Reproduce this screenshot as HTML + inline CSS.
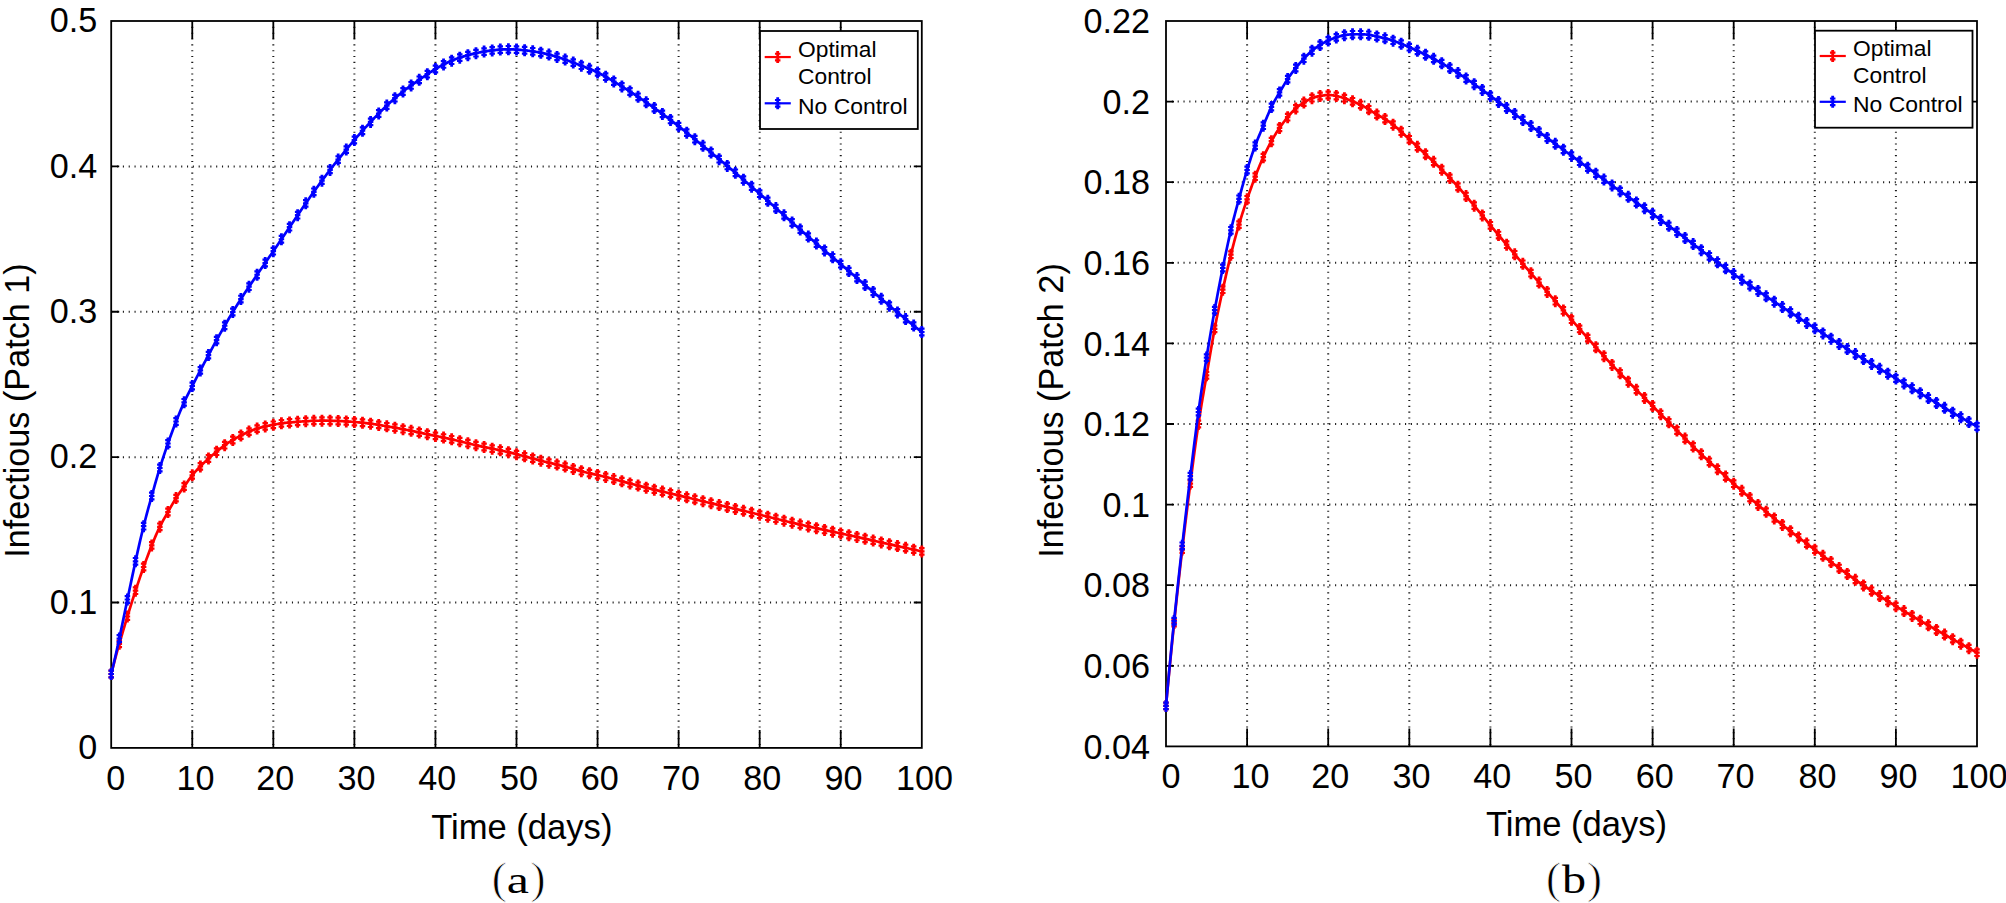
<!DOCTYPE html>
<html><head><meta charset="utf-8"><title>Infectious patches</title>
<style>
html,body{margin:0;padding:0;background:#fff;}
body{width:2006px;height:903px;overflow:hidden;}
svg{display:block;}
.tk{font-family:"Liberation Sans", Arial, Helvetica, sans-serif;font-size:34.2px;fill:#000;}
.lb{font-family:"Liberation Sans", Arial, Helvetica, sans-serif;font-size:34.2px;fill:#000;}
.xl{font-family:"Liberation Sans", Arial, Helvetica, sans-serif;font-size:34.6px;fill:#000;}
.lg{font-family:"Liberation Sans", Arial, Helvetica, sans-serif;font-size:21.5px;fill:#000;}
.cap{font-family:"Liberation Serif", "Times New Roman", serif;font-size:42px;fill:#000;}
.par{font-family:"Liberation Serif", "Times New Roman", serif;font-size:45px;fill:#000;stroke:#fff;stroke-width:0.8px;}
</style></head>
<body>
<svg width="2006" height="903" viewBox="0 0 2006 903">
<rect width="2006" height="903" fill="#fff"/>
<path d="M192.26,21.00V747.90M273.32,21.00V747.90M354.38,21.00V747.90M435.44,21.00V747.90M516.50,21.00V747.90M597.56,21.00V747.90M678.62,21.00V747.90M759.68,21.00V747.90M840.74,21.00V747.90M111.20,602.52H921.80M111.20,457.14H921.80M111.20,311.76H921.80M111.20,166.38H921.80" stroke="#1a1a1a" stroke-width="2.0" stroke-dasharray="1.1 4.73" fill="none"/>
<path d="M192.26,747.90v-18M192.26,21.00v18M273.32,747.90v-18M273.32,21.00v18M354.38,747.90v-18M354.38,21.00v18M435.44,747.90v-18M435.44,21.00v18M516.50,747.90v-18M516.50,21.00v18M597.56,747.90v-18M597.56,21.00v18M678.62,747.90v-18M678.62,21.00v18M759.68,747.90v-18M759.68,21.00v18M840.74,747.90v-18M840.74,21.00v18M111.20,602.52h8M921.80,602.52h-8M111.20,457.14h8M921.80,457.14h-8M111.20,311.76h8M921.80,311.76h-8M111.20,166.38h8M921.80,166.38h-8" stroke="#000" stroke-width="1.8" fill="none"/>
<rect x="111.20" y="21.00" width="810.60" height="726.90" stroke="#000" stroke-width="1.8" fill="none"/>
<polyline points="111.20,674.00 112.21,670.00 113.23,666.07 114.24,662.21 115.25,658.41 116.27,654.68 117.28,651.00 118.29,647.38 119.31,643.80 120.32,640.27 121.33,636.78 122.35,633.33 123.36,629.91 124.37,626.52 125.39,623.16 126.40,619.82 127.41,616.50 128.43,613.19 129.44,609.90 130.45,606.64 131.47,603.39 132.48,600.17 133.49,596.98 134.50,593.82 135.52,590.70 136.53,587.62 137.54,584.57 138.56,581.56 139.57,578.58 140.58,575.64 141.60,572.73 142.61,569.85 143.62,567.00 144.64,564.18 145.65,561.39 146.66,558.64 147.68,555.91 148.69,553.23 149.70,550.58 150.72,547.97 151.73,545.40 152.74,542.87 153.76,540.40 154.77,537.97 155.78,535.60 156.80,533.29 157.81,531.06 158.82,528.89 159.84,526.80 160.85,524.79 161.86,522.85 162.88,520.97 163.89,519.13 164.90,517.33 165.92,515.55 166.93,513.78 167.94,512.00 168.96,510.21 169.97,508.42 170.98,506.63 172.00,504.86 173.01,503.11 174.02,501.39 175.03,499.72 176.05,498.10 177.06,496.54 178.07,495.03 179.09,493.57 180.10,492.13 181.11,490.72 182.13,489.32 183.14,487.91 184.15,486.50 185.17,485.07 186.18,483.63 187.19,482.18 188.21,480.75 189.22,479.33 190.23,477.95 191.25,476.60 192.26,475.30 193.27,474.06 194.29,472.86 195.30,471.72 196.31,470.61 197.33,469.53 198.34,468.47 199.35,467.43 200.37,466.40 201.38,465.37 202.39,464.35 203.41,463.34 204.42,462.33 205.43,461.35 206.45,460.38 207.46,459.43 208.47,458.50 209.49,457.60 210.50,456.72 211.51,455.87 212.52,455.02 213.54,454.19 214.55,453.36 215.56,452.53 216.58,451.70 217.59,450.86 218.60,450.02 219.62,449.19 220.63,448.36 221.64,447.54 222.66,446.74 223.67,445.96 224.68,445.20 225.70,444.47 226.71,443.78 227.72,443.10 228.74,442.45 229.75,441.82 230.76,441.20 231.78,440.60 232.79,440.00 233.80,439.41 234.82,438.83 235.83,438.26 236.84,437.69 237.86,437.13 238.87,436.58 239.88,436.04 240.90,435.50 241.91,434.97 242.92,434.46 243.94,433.95 244.95,433.45 245.96,432.97 246.98,432.50 247.99,432.04 249.00,431.60 250.02,431.17 251.03,430.76 252.04,430.37 253.06,429.99 254.07,429.62 255.08,429.27 256.09,428.93 257.11,428.60 258.12,428.28 259.13,427.98 260.15,427.68 261.16,427.40 262.17,427.13 263.19,426.88 264.20,426.63 265.21,426.40 266.23,426.18 267.24,425.97 268.25,425.77 269.27,425.57 270.28,425.38 271.29,425.19 272.31,425.00 273.32,424.80 274.33,424.60 275.35,424.40 276.36,424.20 277.37,424.00 278.39,423.81 279.40,423.62 280.41,423.45 281.43,423.30 282.44,423.16 283.45,423.04 284.47,422.93 285.48,422.84 286.49,422.75 287.51,422.66 288.52,422.58 289.53,422.50 290.55,422.42 291.56,422.33 292.57,422.25 293.58,422.16 294.60,422.07 295.61,421.99 296.62,421.90 297.64,421.81 298.65,421.73 299.66,421.64 300.68,421.56 301.69,421.48 302.70,421.41 303.72,421.33 304.73,421.27 305.74,421.20 306.76,421.14 307.77,421.08 308.78,421.03 309.80,420.98 310.81,420.94 311.82,420.90 312.84,420.86 313.85,420.83 314.86,420.80 315.88,420.78 316.89,420.76 317.90,420.74 318.92,420.73 319.93,420.71 320.94,420.71 321.96,420.70 322.97,420.70 323.98,420.70 325.00,420.70 326.01,420.71 327.02,420.72 328.04,420.73 329.05,420.74 330.06,420.76 331.08,420.78 332.09,420.80 333.10,420.83 334.11,420.86 335.13,420.89 336.14,420.92 337.15,420.96 338.17,421.00 339.18,421.04 340.19,421.09 341.21,421.14 342.22,421.19 343.23,421.24 344.25,421.30 345.26,421.36 346.27,421.42 347.29,421.48 348.30,421.55 349.31,421.62 350.33,421.69 351.34,421.76 352.35,421.84 353.37,421.92 354.38,422.00 355.39,422.08 356.41,422.17 357.42,422.26 358.43,422.35 359.45,422.44 360.46,422.54 361.47,422.64 362.49,422.74 363.50,422.85 364.51,422.96 365.53,423.07 366.54,423.19 367.55,423.31 368.57,423.43 369.58,423.57 370.59,423.70 371.61,423.84 372.62,423.98 373.63,424.13 374.64,424.28 375.66,424.44 376.67,424.60 377.68,424.76 378.70,424.92 379.71,425.09 380.72,425.26 381.74,425.43 382.75,425.60 383.76,425.78 384.78,425.95 385.79,426.12 386.80,426.30 387.82,426.48 388.83,426.65 389.84,426.83 390.86,427.00 391.87,427.18 392.88,427.36 393.90,427.53 394.91,427.71 395.92,427.89 396.94,428.08 397.95,428.26 398.96,428.44 399.98,428.63 400.99,428.82 402.00,429.01 403.02,429.20 404.03,429.39 405.04,429.59 406.06,429.79 407.07,429.99 408.08,430.19 409.10,430.40 410.11,430.60 411.12,430.81 412.14,431.02 413.15,431.23 414.16,431.44 415.17,431.65 416.19,431.86 417.20,432.07 418.21,432.29 419.23,432.50 420.24,432.71 421.25,432.93 422.27,433.14 423.28,433.36 424.29,433.57 425.31,433.78 426.32,434.00 427.33,434.21 428.35,434.42 429.36,434.64 430.37,434.85 431.39,435.06 432.40,435.27 433.41,435.48 434.43,435.69 435.44,435.90 436.45,436.11 437.47,436.32 438.48,436.52 439.49,436.73 440.51,436.94 441.52,437.14 442.53,437.35 443.55,437.56 444.56,437.77 445.57,437.98 446.59,438.20 447.60,438.41 448.61,438.63 449.63,438.85 450.64,439.07 451.65,439.30 452.67,439.53 453.68,439.76 454.69,440.00 455.70,440.23 456.72,440.47 457.73,440.72 458.74,440.96 459.76,441.20 460.77,441.45 461.78,441.70 462.80,441.95 463.81,442.20 464.82,442.45 465.84,442.70 466.85,442.95 467.86,443.20 468.88,443.45 469.89,443.70 470.90,443.95 471.92,444.19 472.93,444.44 473.94,444.69 474.96,444.93 475.97,445.17 476.98,445.41 478.00,445.64 479.01,445.88 480.02,446.11 481.04,446.34 482.05,446.56 483.06,446.78 484.08,447.00 485.09,447.21 486.10,447.42 487.12,447.63 488.13,447.84 489.14,448.04 490.16,448.24 491.17,448.44 492.18,448.65 493.20,448.85 494.21,449.05 495.22,449.25 496.23,449.46 497.25,449.66 498.26,449.87 499.27,450.08 500.29,450.30 501.30,450.52 502.31,450.74 503.33,450.97 504.34,451.20 505.35,451.44 506.37,451.68 507.38,451.92 508.39,452.16 509.41,452.41 510.42,452.66 511.43,452.91 512.45,453.17 513.46,453.42 514.47,453.68 515.49,453.94 516.50,454.20 517.51,454.46 518.53,454.73 519.54,454.99 520.55,455.26 521.57,455.52 522.58,455.79 523.59,456.06 524.61,456.33 525.62,456.60 526.63,456.87 527.65,457.14 528.66,457.41 529.67,457.68 530.69,457.96 531.70,458.23 532.71,458.50 533.73,458.77 534.74,459.04 535.75,459.31 536.76,459.59 537.78,459.85 538.79,460.12 539.80,460.39 540.82,460.66 541.83,460.92 542.84,461.18 543.86,461.44 544.87,461.70 545.88,461.95 546.90,462.21 547.91,462.45 548.92,462.70 549.94,462.94 550.95,463.18 551.96,463.42 552.98,463.66 553.99,463.89 555.00,464.13 556.02,464.36 557.03,464.60 558.04,464.83 559.06,465.08 560.07,465.32 561.08,465.56 562.10,465.82 563.11,466.07 564.12,466.33 565.14,466.60 566.15,466.87 567.16,467.15 568.18,467.44 569.19,467.73 570.20,468.02 571.22,468.31 572.23,468.61 573.24,468.91 574.26,469.20 575.27,469.50 576.28,469.79 577.29,470.08 578.31,470.37 579.32,470.65 580.33,470.93 581.35,471.20 582.36,471.46 583.37,471.72 584.39,471.97 585.40,472.22 586.41,472.46 587.43,472.70 588.44,472.93 589.45,473.17 590.47,473.39 591.48,473.62 592.49,473.85 593.51,474.08 594.52,474.31 595.53,474.54 596.55,474.77 597.56,475.00 598.57,475.24 599.59,475.48 600.60,475.72 601.61,475.96 602.63,476.21 603.64,476.46 604.65,476.71 605.67,476.97 606.68,477.22 607.69,477.48 608.71,477.74 609.72,478.01 610.73,478.27 611.75,478.54 612.76,478.80 613.77,479.07 614.79,479.34 615.80,479.61 616.81,479.88 617.82,480.15 618.84,480.43 619.85,480.70 620.86,480.98 621.88,481.25 622.89,481.53 623.90,481.80 624.92,482.08 625.93,482.35 626.94,482.63 627.96,482.90 628.97,483.17 629.98,483.45 631.00,483.72 632.01,483.99 633.02,484.26 634.04,484.53 635.05,484.80 636.06,485.07 637.08,485.34 638.09,485.60 639.10,485.86 640.12,486.12 641.13,486.38 642.14,486.64 643.16,486.90 644.17,487.16 645.18,487.41 646.20,487.66 647.21,487.92 648.22,488.17 649.24,488.42 650.25,488.66 651.26,488.91 652.28,489.16 653.29,489.40 654.30,489.65 655.32,489.89 656.33,490.14 657.34,490.38 658.36,490.62 659.37,490.86 660.38,491.10 661.39,491.34 662.41,491.58 663.42,491.82 664.43,492.06 665.45,492.30 666.46,492.54 667.47,492.78 668.49,493.02 669.50,493.25 670.51,493.49 671.53,493.73 672.54,493.97 673.55,494.21 674.57,494.44 675.58,494.68 676.59,494.92 677.61,495.16 678.62,495.40 679.63,495.64 680.65,495.88 681.66,496.12 682.67,496.36 683.69,496.60 684.70,496.84 685.71,497.09 686.73,497.33 687.74,497.57 688.75,497.81 689.77,498.06 690.78,498.30 691.79,498.54 692.81,498.79 693.82,499.03 694.83,499.27 695.85,499.52 696.86,499.76 697.87,500.00 698.88,500.25 699.90,500.49 700.91,500.73 701.92,500.98 702.94,501.22 703.95,501.47 704.96,501.71 705.98,501.95 706.99,502.20 708.00,502.44 709.02,502.68 710.03,502.93 711.04,503.17 712.06,503.41 713.07,503.65 714.08,503.89 715.10,504.14 716.11,504.38 717.12,504.62 718.14,504.86 719.15,505.10 720.16,505.34 721.18,505.58 722.19,505.82 723.20,506.06 724.22,506.30 725.23,506.54 726.24,506.77 727.26,507.01 728.27,507.25 729.28,507.49 730.30,507.73 731.31,507.96 732.32,508.20 733.34,508.44 734.35,508.68 735.36,508.91 736.38,509.15 737.39,509.39 738.40,509.63 739.41,509.87 740.43,510.10 741.44,510.34 742.45,510.58 743.47,510.82 744.48,511.06 745.49,511.30 746.51,511.54 747.52,511.78 748.53,512.02 749.55,512.26 750.56,512.50 751.57,512.74 752.59,512.99 753.60,513.23 754.61,513.47 755.63,513.72 756.64,513.96 757.65,514.21 758.67,514.45 759.68,514.70 760.69,514.95 761.71,515.20 762.72,515.44 763.73,515.69 764.75,515.94 765.76,516.19 766.77,516.44 767.79,516.69 768.80,516.95 769.81,517.20 770.83,517.45 771.84,517.70 772.85,517.95 773.87,518.20 774.88,518.46 775.89,518.71 776.91,518.96 777.92,519.21 778.93,519.46 779.94,519.71 780.96,519.96 781.97,520.21 782.98,520.46 784.00,520.71 785.01,520.96 786.02,521.21 787.04,521.46 788.05,521.71 789.06,521.95 790.08,522.20 791.09,522.44 792.10,522.69 793.12,522.93 794.13,523.17 795.14,523.41 796.16,523.65 797.17,523.89 798.18,524.13 799.20,524.36 800.21,524.60 801.22,524.83 802.24,525.07 803.25,525.30 804.26,525.53 805.28,525.76 806.29,525.98 807.30,526.21 808.32,526.44 809.33,526.66 810.34,526.88 811.36,527.11 812.37,527.33 813.38,527.55 814.40,527.77 815.41,527.99 816.42,528.21 817.44,528.43 818.45,528.65 819.46,528.86 820.47,529.08 821.49,529.30 822.50,529.51 823.51,529.73 824.53,529.95 825.54,530.16 826.55,530.38 827.57,530.59 828.58,530.81 829.59,531.02 830.61,531.24 831.62,531.45 832.63,531.67 833.65,531.88 834.66,532.10 835.67,532.32 836.69,532.53 837.70,532.75 838.71,532.96 839.73,533.18 840.74,533.40 841.75,533.62 842.77,533.84 843.78,534.06 844.79,534.28 845.81,534.50 846.82,534.72 847.83,534.94 848.85,535.16 849.86,535.38 850.87,535.60 851.89,535.83 852.90,536.05 853.91,536.27 854.93,536.50 855.94,536.72 856.95,536.95 857.97,537.17 858.98,537.40 859.99,537.62 861.00,537.85 862.02,538.07 863.03,538.30 864.04,538.53 865.06,538.75 866.07,538.98 867.08,539.21 868.10,539.43 869.11,539.66 870.12,539.89 871.14,540.12 872.15,540.35 873.16,540.57 874.18,540.80 875.19,541.03 876.20,541.26 877.22,541.49 878.23,541.71 879.24,541.94 880.26,542.17 881.27,542.40 882.28,542.63 883.30,542.86 884.31,543.09 885.32,543.31 886.34,543.54 887.35,543.77 888.36,544.00 889.38,544.23 890.39,544.45 891.40,544.68 892.42,544.91 893.43,545.14 894.44,545.37 895.46,545.59 896.47,545.82 897.48,546.05 898.50,546.27 899.51,546.50 900.52,546.73 901.53,546.95 902.55,547.18 903.56,547.40 904.57,547.63 905.59,547.85 906.60,548.08 907.61,548.30 908.63,548.53 909.64,548.75 910.65,548.97 911.67,549.20 912.68,549.42 913.69,549.64 914.71,549.86 915.72,550.08 916.73,550.30 917.75,550.52 918.76,550.74 919.77,550.96 920.79,551.18 921.80,551.40" stroke="#ff0000" stroke-width="2.7" fill="none" stroke-linejoin="round"/>
<path d="M109.80,668.00h2.8v12h-2.8zM108.45,669.60h5.5v2.2h-5.5zM108.45,672.90h5.5v2.2h-5.5zM108.45,676.20h5.5v2.2h-5.5zM117.91,637.80h2.8v12h-2.8zM116.56,639.40h5.5v2.2h-5.5zM116.56,642.70h5.5v2.2h-5.5zM116.56,646.00h5.5v2.2h-5.5zM126.01,610.50h2.8v12h-2.8zM124.66,612.10h5.5v2.2h-5.5zM124.66,615.40h5.5v2.2h-5.5zM124.66,618.70h5.5v2.2h-5.5zM134.12,584.70h2.8v12h-2.8zM132.77,586.30h5.5v2.2h-5.5zM132.77,589.60h5.5v2.2h-5.5zM132.77,592.90h5.5v2.2h-5.5zM142.22,561.00h2.8v12h-2.8zM140.87,562.60h5.5v2.2h-5.5zM140.87,565.90h5.5v2.2h-5.5zM140.87,569.20h5.5v2.2h-5.5zM150.33,539.40h2.8v12h-2.8zM148.98,541.00h5.5v2.2h-5.5zM148.98,544.30h5.5v2.2h-5.5zM148.98,547.60h5.5v2.2h-5.5zM158.44,520.80h2.8v12h-2.8zM157.09,522.40h5.5v2.2h-5.5zM157.09,525.70h5.5v2.2h-5.5zM157.09,529.00h5.5v2.2h-5.5zM166.54,506.00h2.8v12h-2.8zM165.19,507.60h5.5v2.2h-5.5zM165.19,510.90h5.5v2.2h-5.5zM165.19,514.20h5.5v2.2h-5.5zM174.65,492.10h2.8v12h-2.8zM173.30,493.70h5.5v2.2h-5.5zM173.30,497.00h5.5v2.2h-5.5zM173.30,500.30h5.5v2.2h-5.5zM182.75,480.50h2.8v12h-2.8zM181.40,482.10h5.5v2.2h-5.5zM181.40,485.40h5.5v2.2h-5.5zM181.40,488.70h5.5v2.2h-5.5zM190.86,469.30h2.8v12h-2.8zM189.51,470.90h5.5v2.2h-5.5zM189.51,474.20h5.5v2.2h-5.5zM189.51,477.50h5.5v2.2h-5.5zM198.97,460.40h2.8v12h-2.8zM197.62,462.00h5.5v2.2h-5.5zM197.62,465.30h5.5v2.2h-5.5zM197.62,468.60h5.5v2.2h-5.5zM207.07,452.50h2.8v12h-2.8zM205.72,454.10h5.5v2.2h-5.5zM205.72,457.40h5.5v2.2h-5.5zM205.72,460.70h5.5v2.2h-5.5zM215.18,445.70h2.8v12h-2.8zM213.83,447.30h5.5v2.2h-5.5zM213.83,450.60h5.5v2.2h-5.5zM213.83,453.90h5.5v2.2h-5.5zM223.28,439.20h2.8v12h-2.8zM221.93,440.80h5.5v2.2h-5.5zM221.93,444.10h5.5v2.2h-5.5zM221.93,447.40h5.5v2.2h-5.5zM231.39,434.00h2.8v12h-2.8zM230.04,435.60h5.5v2.2h-5.5zM230.04,438.90h5.5v2.2h-5.5zM230.04,442.20h5.5v2.2h-5.5zM239.50,429.50h2.8v12h-2.8zM238.15,431.10h5.5v2.2h-5.5zM238.15,434.40h5.5v2.2h-5.5zM238.15,437.70h5.5v2.2h-5.5zM247.60,425.60h2.8v12h-2.8zM246.25,427.20h5.5v2.2h-5.5zM246.25,430.50h5.5v2.2h-5.5zM246.25,433.80h5.5v2.2h-5.5zM255.71,422.60h2.8v12h-2.8zM254.36,424.20h5.5v2.2h-5.5zM254.36,427.50h5.5v2.2h-5.5zM254.36,430.80h5.5v2.2h-5.5zM263.81,420.40h2.8v12h-2.8zM262.46,422.00h5.5v2.2h-5.5zM262.46,425.30h5.5v2.2h-5.5zM262.46,428.60h5.5v2.2h-5.5zM271.92,418.80h2.8v12h-2.8zM270.57,420.40h5.5v2.2h-5.5zM270.57,423.70h5.5v2.2h-5.5zM270.57,427.00h5.5v2.2h-5.5zM280.03,417.30h2.8v12h-2.8zM278.68,418.90h5.5v2.2h-5.5zM278.68,422.20h5.5v2.2h-5.5zM278.68,425.50h5.5v2.2h-5.5zM288.13,416.50h2.8v12h-2.8zM286.78,418.10h5.5v2.2h-5.5zM286.78,421.40h5.5v2.2h-5.5zM286.78,424.70h5.5v2.2h-5.5zM296.24,415.81h2.8v12h-2.8zM294.89,417.41h5.5v2.2h-5.5zM294.89,420.71h5.5v2.2h-5.5zM294.89,424.01h5.5v2.2h-5.5zM304.34,415.20h2.8v12h-2.8zM302.99,416.80h5.5v2.2h-5.5zM302.99,420.10h5.5v2.2h-5.5zM302.99,423.40h5.5v2.2h-5.5zM312.45,414.83h2.8v12h-2.8zM311.10,416.43h5.5v2.2h-5.5zM311.10,419.73h5.5v2.2h-5.5zM311.10,423.03h5.5v2.2h-5.5zM320.56,414.70h2.8v12h-2.8zM319.21,416.30h5.5v2.2h-5.5zM319.21,419.60h5.5v2.2h-5.5zM319.21,422.90h5.5v2.2h-5.5zM328.66,414.76h2.8v12h-2.8zM327.31,416.36h5.5v2.2h-5.5zM327.31,419.66h5.5v2.2h-5.5zM327.31,422.96h5.5v2.2h-5.5zM336.77,415.00h2.8v12h-2.8zM335.42,416.60h5.5v2.2h-5.5zM335.42,419.90h5.5v2.2h-5.5zM335.42,423.20h5.5v2.2h-5.5zM344.87,415.42h2.8v12h-2.8zM343.52,417.02h5.5v2.2h-5.5zM343.52,420.32h5.5v2.2h-5.5zM343.52,423.62h5.5v2.2h-5.5zM352.98,416.00h2.8v12h-2.8zM351.63,417.60h5.5v2.2h-5.5zM351.63,420.90h5.5v2.2h-5.5zM351.63,424.20h5.5v2.2h-5.5zM361.09,416.74h2.8v12h-2.8zM359.74,418.34h5.5v2.2h-5.5zM359.74,421.64h5.5v2.2h-5.5zM359.74,424.94h5.5v2.2h-5.5zM369.19,417.70h2.8v12h-2.8zM367.84,419.30h5.5v2.2h-5.5zM367.84,422.60h5.5v2.2h-5.5zM367.84,425.90h5.5v2.2h-5.5zM377.30,418.92h2.8v12h-2.8zM375.95,420.52h5.5v2.2h-5.5zM375.95,423.82h5.5v2.2h-5.5zM375.95,427.12h5.5v2.2h-5.5zM385.40,420.30h2.8v12h-2.8zM384.05,421.90h5.5v2.2h-5.5zM384.05,425.20h5.5v2.2h-5.5zM384.05,428.50h5.5v2.2h-5.5zM393.51,421.71h2.8v12h-2.8zM392.16,423.31h5.5v2.2h-5.5zM392.16,426.61h5.5v2.2h-5.5zM392.16,429.91h5.5v2.2h-5.5zM401.62,423.20h2.8v12h-2.8zM400.27,424.80h5.5v2.2h-5.5zM400.27,428.10h5.5v2.2h-5.5zM400.27,431.40h5.5v2.2h-5.5zM409.72,424.81h2.8v12h-2.8zM408.37,426.41h5.5v2.2h-5.5zM408.37,429.71h5.5v2.2h-5.5zM408.37,433.01h5.5v2.2h-5.5zM417.83,426.50h2.8v12h-2.8zM416.48,428.10h5.5v2.2h-5.5zM416.48,431.40h5.5v2.2h-5.5zM416.48,434.70h5.5v2.2h-5.5zM425.93,428.21h2.8v12h-2.8zM424.58,429.81h5.5v2.2h-5.5zM424.58,433.11h5.5v2.2h-5.5zM424.58,436.41h5.5v2.2h-5.5zM434.04,429.90h2.8v12h-2.8zM432.69,431.50h5.5v2.2h-5.5zM432.69,434.80h5.5v2.2h-5.5zM432.69,438.10h5.5v2.2h-5.5zM442.15,431.56h2.8v12h-2.8zM440.80,433.16h5.5v2.2h-5.5zM440.80,436.46h5.5v2.2h-5.5zM440.80,439.76h5.5v2.2h-5.5zM450.25,433.30h2.8v12h-2.8zM448.90,434.90h5.5v2.2h-5.5zM448.90,438.20h5.5v2.2h-5.5zM448.90,441.50h5.5v2.2h-5.5zM458.36,435.20h2.8v12h-2.8zM457.01,436.80h5.5v2.2h-5.5zM457.01,440.10h5.5v2.2h-5.5zM457.01,443.40h5.5v2.2h-5.5zM466.46,437.20h2.8v12h-2.8zM465.11,438.80h5.5v2.2h-5.5zM465.11,442.10h5.5v2.2h-5.5zM465.11,445.40h5.5v2.2h-5.5zM474.57,439.17h2.8v12h-2.8zM473.22,440.77h5.5v2.2h-5.5zM473.22,444.07h5.5v2.2h-5.5zM473.22,447.37h5.5v2.2h-5.5zM482.68,441.00h2.8v12h-2.8zM481.33,442.60h5.5v2.2h-5.5zM481.33,445.90h5.5v2.2h-5.5zM481.33,449.20h5.5v2.2h-5.5zM490.78,442.65h2.8v12h-2.8zM489.43,444.25h5.5v2.2h-5.5zM489.43,447.55h5.5v2.2h-5.5zM489.43,450.85h5.5v2.2h-5.5zM498.89,444.30h2.8v12h-2.8zM497.54,445.90h5.5v2.2h-5.5zM497.54,449.20h5.5v2.2h-5.5zM497.54,452.50h5.5v2.2h-5.5zM506.99,446.16h2.8v12h-2.8zM505.64,447.76h5.5v2.2h-5.5zM505.64,451.06h5.5v2.2h-5.5zM505.64,454.36h5.5v2.2h-5.5zM515.10,448.20h2.8v12h-2.8zM513.75,449.80h5.5v2.2h-5.5zM513.75,453.10h5.5v2.2h-5.5zM513.75,456.40h5.5v2.2h-5.5zM523.21,450.33h2.8v12h-2.8zM521.86,451.93h5.5v2.2h-5.5zM521.86,455.23h5.5v2.2h-5.5zM521.86,458.53h5.5v2.2h-5.5zM531.31,452.50h2.8v12h-2.8zM529.96,454.10h5.5v2.2h-5.5zM529.96,457.40h5.5v2.2h-5.5zM529.96,460.70h5.5v2.2h-5.5zM539.42,454.66h2.8v12h-2.8zM538.07,456.26h5.5v2.2h-5.5zM538.07,459.56h5.5v2.2h-5.5zM538.07,462.86h5.5v2.2h-5.5zM547.52,456.70h2.8v12h-2.8zM546.17,458.30h5.5v2.2h-5.5zM546.17,461.60h5.5v2.2h-5.5zM546.17,464.90h5.5v2.2h-5.5zM555.63,458.60h2.8v12h-2.8zM554.28,460.20h5.5v2.2h-5.5zM554.28,463.50h5.5v2.2h-5.5zM554.28,466.80h5.5v2.2h-5.5zM563.74,460.60h2.8v12h-2.8zM562.39,462.20h5.5v2.2h-5.5zM562.39,465.50h5.5v2.2h-5.5zM562.39,468.80h5.5v2.2h-5.5zM571.84,462.91h2.8v12h-2.8zM570.49,464.51h5.5v2.2h-5.5zM570.49,467.81h5.5v2.2h-5.5zM570.49,471.11h5.5v2.2h-5.5zM579.95,465.20h2.8v12h-2.8zM578.60,466.80h5.5v2.2h-5.5zM578.60,470.10h5.5v2.2h-5.5zM578.60,473.40h5.5v2.2h-5.5zM588.05,467.17h2.8v12h-2.8zM586.70,468.77h5.5v2.2h-5.5zM586.70,472.07h5.5v2.2h-5.5zM586.70,475.37h5.5v2.2h-5.5zM596.16,469.00h2.8v12h-2.8zM594.81,470.60h5.5v2.2h-5.5zM594.81,473.90h5.5v2.2h-5.5zM594.81,477.20h5.5v2.2h-5.5zM604.27,470.97h2.8v12h-2.8zM602.92,472.57h5.5v2.2h-5.5zM602.92,475.87h5.5v2.2h-5.5zM602.92,479.17h5.5v2.2h-5.5zM612.37,473.07h2.8v12h-2.8zM611.02,474.67h5.5v2.2h-5.5zM611.02,477.97h5.5v2.2h-5.5zM611.02,481.27h5.5v2.2h-5.5zM620.48,475.25h2.8v12h-2.8zM619.13,476.85h5.5v2.2h-5.5zM619.13,480.15h5.5v2.2h-5.5zM619.13,483.45h5.5v2.2h-5.5zM628.58,477.45h2.8v12h-2.8zM627.23,479.05h5.5v2.2h-5.5zM627.23,482.35h5.5v2.2h-5.5zM627.23,485.65h5.5v2.2h-5.5zM636.69,479.60h2.8v12h-2.8zM635.34,481.20h5.5v2.2h-5.5zM635.34,484.50h5.5v2.2h-5.5zM635.34,487.80h5.5v2.2h-5.5zM644.80,481.66h2.8v12h-2.8zM643.45,483.26h5.5v2.2h-5.5zM643.45,486.56h5.5v2.2h-5.5zM643.45,489.86h5.5v2.2h-5.5zM652.90,483.65h2.8v12h-2.8zM651.55,485.25h5.5v2.2h-5.5zM651.55,488.55h5.5v2.2h-5.5zM651.55,491.85h5.5v2.2h-5.5zM661.01,485.58h2.8v12h-2.8zM659.66,487.18h5.5v2.2h-5.5zM659.66,490.48h5.5v2.2h-5.5zM659.66,493.78h5.5v2.2h-5.5zM669.11,487.49h2.8v12h-2.8zM667.76,489.09h5.5v2.2h-5.5zM667.76,492.39h5.5v2.2h-5.5zM667.76,495.69h5.5v2.2h-5.5zM677.22,489.40h2.8v12h-2.8zM675.87,491.00h5.5v2.2h-5.5zM675.87,494.30h5.5v2.2h-5.5zM675.87,497.60h5.5v2.2h-5.5zM685.33,491.33h2.8v12h-2.8zM683.98,492.93h5.5v2.2h-5.5zM683.98,496.23h5.5v2.2h-5.5zM683.98,499.53h5.5v2.2h-5.5zM693.43,493.27h2.8v12h-2.8zM692.08,494.87h5.5v2.2h-5.5zM692.08,498.17h5.5v2.2h-5.5zM692.08,501.47h5.5v2.2h-5.5zM701.54,495.22h2.8v12h-2.8zM700.19,496.82h5.5v2.2h-5.5zM700.19,500.12h5.5v2.2h-5.5zM700.19,503.42h5.5v2.2h-5.5zM709.64,497.17h2.8v12h-2.8zM708.29,498.77h5.5v2.2h-5.5zM708.29,502.07h5.5v2.2h-5.5zM708.29,505.37h5.5v2.2h-5.5zM717.75,499.10h2.8v12h-2.8zM716.40,500.70h5.5v2.2h-5.5zM716.40,504.00h5.5v2.2h-5.5zM716.40,507.30h5.5v2.2h-5.5zM725.86,501.01h2.8v12h-2.8zM724.51,502.61h5.5v2.2h-5.5zM724.51,505.91h5.5v2.2h-5.5zM724.51,509.21h5.5v2.2h-5.5zM733.96,502.91h2.8v12h-2.8zM732.61,504.51h5.5v2.2h-5.5zM732.61,507.81h5.5v2.2h-5.5zM732.61,511.11h5.5v2.2h-5.5zM742.07,504.82h2.8v12h-2.8zM740.72,506.42h5.5v2.2h-5.5zM740.72,509.72h5.5v2.2h-5.5zM740.72,513.02h5.5v2.2h-5.5zM750.17,506.74h2.8v12h-2.8zM748.82,508.34h5.5v2.2h-5.5zM748.82,511.64h5.5v2.2h-5.5zM748.82,514.94h5.5v2.2h-5.5zM758.28,508.70h2.8v12h-2.8zM756.93,510.30h5.5v2.2h-5.5zM756.93,513.60h5.5v2.2h-5.5zM756.93,516.90h5.5v2.2h-5.5zM766.39,510.69h2.8v12h-2.8zM765.04,512.29h5.5v2.2h-5.5zM765.04,515.59h5.5v2.2h-5.5zM765.04,518.89h5.5v2.2h-5.5zM774.49,512.71h2.8v12h-2.8zM773.14,514.31h5.5v2.2h-5.5zM773.14,517.61h5.5v2.2h-5.5zM773.14,520.91h5.5v2.2h-5.5zM782.60,514.71h2.8v12h-2.8zM781.25,516.31h5.5v2.2h-5.5zM781.25,519.61h5.5v2.2h-5.5zM781.25,522.91h5.5v2.2h-5.5zM790.70,516.69h2.8v12h-2.8zM789.35,518.29h5.5v2.2h-5.5zM789.35,521.59h5.5v2.2h-5.5zM789.35,524.89h5.5v2.2h-5.5zM798.81,518.60h2.8v12h-2.8zM797.46,520.20h5.5v2.2h-5.5zM797.46,523.50h5.5v2.2h-5.5zM797.46,526.80h5.5v2.2h-5.5zM806.92,520.44h2.8v12h-2.8zM805.57,522.04h5.5v2.2h-5.5zM805.57,525.34h5.5v2.2h-5.5zM805.57,528.64h5.5v2.2h-5.5zM815.02,522.21h2.8v12h-2.8zM813.67,523.81h5.5v2.2h-5.5zM813.67,527.11h5.5v2.2h-5.5zM813.67,530.41h5.5v2.2h-5.5zM823.13,523.95h2.8v12h-2.8zM821.78,525.55h5.5v2.2h-5.5zM821.78,528.85h5.5v2.2h-5.5zM821.78,532.15h5.5v2.2h-5.5zM831.23,525.67h2.8v12h-2.8zM829.88,527.27h5.5v2.2h-5.5zM829.88,530.57h5.5v2.2h-5.5zM829.88,533.87h5.5v2.2h-5.5zM839.34,527.40h2.8v12h-2.8zM837.99,529.00h5.5v2.2h-5.5zM837.99,532.30h5.5v2.2h-5.5zM837.99,535.60h5.5v2.2h-5.5zM847.45,529.16h2.8v12h-2.8zM846.10,530.76h5.5v2.2h-5.5zM846.10,534.06h5.5v2.2h-5.5zM846.10,537.36h5.5v2.2h-5.5zM855.55,530.95h2.8v12h-2.8zM854.20,532.55h5.5v2.2h-5.5zM854.20,535.85h5.5v2.2h-5.5zM854.20,539.15h5.5v2.2h-5.5zM863.66,532.75h2.8v12h-2.8zM862.31,534.35h5.5v2.2h-5.5zM862.31,537.65h5.5v2.2h-5.5zM862.31,540.95h5.5v2.2h-5.5zM871.76,534.57h2.8v12h-2.8zM870.41,536.17h5.5v2.2h-5.5zM870.41,539.47h5.5v2.2h-5.5zM870.41,542.77h5.5v2.2h-5.5zM879.87,536.40h2.8v12h-2.8zM878.52,538.00h5.5v2.2h-5.5zM878.52,541.30h5.5v2.2h-5.5zM878.52,544.60h5.5v2.2h-5.5zM887.98,538.23h2.8v12h-2.8zM886.63,539.83h5.5v2.2h-5.5zM886.63,543.13h5.5v2.2h-5.5zM886.63,546.43h5.5v2.2h-5.5zM896.08,540.05h2.8v12h-2.8zM894.73,541.65h5.5v2.2h-5.5zM894.73,544.95h5.5v2.2h-5.5zM894.73,548.25h5.5v2.2h-5.5zM904.19,541.85h2.8v12h-2.8zM902.84,543.45h5.5v2.2h-5.5zM902.84,546.75h5.5v2.2h-5.5zM902.84,550.05h5.5v2.2h-5.5zM912.29,543.64h2.8v12h-2.8zM910.94,545.24h5.5v2.2h-5.5zM910.94,548.54h5.5v2.2h-5.5zM910.94,551.84h5.5v2.2h-5.5zM920.40,545.40h2.8v12h-2.8zM919.05,547.00h5.5v2.2h-5.5zM919.05,550.30h5.5v2.2h-5.5zM919.05,553.60h5.5v2.2h-5.5z" fill="#ff0000"/>
<polyline points="111.20,674.00 112.21,669.92 113.23,665.72 114.24,661.41 115.25,656.99 116.27,652.49 117.28,647.89 118.29,643.23 119.31,638.50 120.32,633.72 121.33,628.89 122.35,624.02 123.36,619.13 124.37,614.22 125.39,609.31 126.40,604.40 127.41,599.50 128.43,594.62 129.44,589.77 130.45,584.94 131.47,580.15 132.48,575.38 133.49,570.65 134.50,565.96 135.52,561.30 136.53,556.69 137.54,552.12 138.56,547.62 139.57,543.17 140.58,538.80 141.60,534.51 142.61,530.31 143.62,526.20 144.64,522.19 145.65,518.27 146.66,514.43 147.68,510.66 148.69,506.94 149.70,503.27 150.72,499.62 151.73,496.00 152.74,492.39 153.76,488.79 154.77,485.22 155.78,481.68 156.80,478.18 157.81,474.73 158.82,471.33 159.84,468.00 160.85,464.74 161.86,461.55 162.88,458.42 163.89,455.34 164.90,452.32 165.92,449.34 166.93,446.40 167.94,443.50 168.96,440.63 169.97,437.79 170.98,434.98 172.00,432.21 173.01,429.47 174.02,426.77 175.03,424.11 176.05,421.50 177.06,418.93 178.07,416.40 179.09,413.93 180.10,411.50 181.11,409.12 182.13,406.79 183.14,404.52 184.15,402.30 185.17,400.14 186.18,398.02 187.19,395.95 188.21,393.92 189.22,391.91 190.23,389.93 191.25,387.96 192.26,386.00 193.27,384.04 194.29,382.09 195.30,380.14 196.31,378.19 197.33,376.24 198.34,374.29 199.35,372.35 200.37,370.41 201.38,368.48 202.39,366.55 203.41,364.63 204.42,362.71 205.43,360.79 206.45,358.88 207.46,356.98 208.47,355.08 209.49,353.19 210.50,351.30 211.51,349.42 212.52,347.55 213.54,345.68 214.55,343.83 215.56,341.98 216.58,340.14 217.59,338.30 218.60,336.48 219.62,334.66 220.63,332.86 221.64,331.06 222.66,329.27 223.67,327.50 224.68,325.73 225.70,323.97 226.71,322.23 227.72,320.49 228.74,318.77 229.75,317.06 230.76,315.36 231.78,313.67 232.79,312.00 233.80,310.34 234.82,308.69 235.83,307.05 236.84,305.43 237.86,303.81 238.87,302.21 239.88,300.62 240.90,299.04 241.91,297.46 242.92,295.90 243.94,294.34 244.95,292.80 245.96,291.26 246.98,289.73 247.99,288.20 249.00,286.68 250.02,285.17 251.03,283.67 252.04,282.17 253.06,280.67 254.07,279.18 255.08,277.69 256.09,276.21 257.11,274.73 258.12,273.26 259.13,271.78 260.15,270.31 261.16,268.84 262.17,267.38 263.19,265.91 264.20,264.44 265.21,262.98 266.23,261.51 267.24,260.04 268.25,258.57 269.27,257.10 270.28,255.63 271.29,254.16 272.31,252.68 273.32,251.20 274.33,249.72 275.35,248.23 276.36,246.74 277.37,245.25 278.39,243.75 279.40,242.25 280.41,240.75 281.43,239.25 282.44,237.75 283.45,236.25 284.47,234.74 285.48,233.24 286.49,231.73 287.51,230.22 288.52,228.72 289.53,227.21 290.55,225.70 291.56,224.20 292.57,222.69 293.58,221.19 294.60,219.69 295.61,218.19 296.62,216.69 297.64,215.20 298.65,213.71 299.66,212.22 300.68,210.73 301.69,209.25 302.70,207.77 303.72,206.29 304.73,204.82 305.74,203.35 306.76,201.89 307.77,200.43 308.78,198.98 309.80,197.53 310.81,196.09 311.82,194.65 312.84,193.22 313.85,191.80 314.86,190.38 315.88,188.97 316.89,187.57 317.90,186.17 318.92,184.78 319.93,183.40 320.94,182.02 321.96,180.65 322.97,179.28 323.98,177.93 325.00,176.57 326.01,175.23 327.02,173.89 328.04,172.56 329.05,171.23 330.06,169.91 331.08,168.59 332.09,167.29 333.10,165.98 334.11,164.69 335.13,163.40 336.14,162.11 337.15,160.83 338.17,159.56 339.18,158.30 340.19,157.04 341.21,155.78 342.22,154.53 343.23,153.29 344.25,152.05 345.26,150.82 346.27,149.60 347.29,148.38 348.30,147.17 349.31,145.96 350.33,144.75 351.34,143.56 352.35,142.37 353.37,141.18 354.38,140.00 355.39,138.83 356.41,137.66 357.42,136.49 358.43,135.33 359.45,134.18 360.46,133.04 361.47,131.90 362.49,130.76 363.50,129.63 364.51,128.51 365.53,127.40 366.54,126.29 367.55,125.19 368.57,124.09 369.58,123.00 370.59,121.92 371.61,120.85 372.62,119.78 373.63,118.72 374.64,117.66 375.66,116.62 376.67,115.58 377.68,114.54 378.70,113.52 379.71,112.50 380.72,111.49 381.74,110.49 382.75,109.50 383.76,108.51 384.78,107.53 385.79,106.56 386.80,105.60 387.82,104.65 388.83,103.70 389.84,102.76 390.86,101.84 391.87,100.92 392.88,100.01 393.90,99.11 394.91,98.22 395.92,97.34 396.94,96.48 397.95,95.62 398.96,94.77 399.98,93.94 400.99,93.11 402.00,92.30 403.02,91.50 404.03,90.71 405.04,89.93 406.06,89.17 407.07,88.41 408.08,87.66 409.10,86.92 410.11,86.19 411.12,85.47 412.14,84.75 413.15,84.03 414.16,83.32 415.17,82.61 416.19,81.91 417.20,81.21 418.21,80.50 419.23,79.80 420.24,79.10 421.25,78.39 422.27,77.69 423.28,76.99 424.29,76.29 425.31,75.60 426.32,74.91 427.33,74.22 428.35,73.54 429.36,72.87 430.37,72.20 431.39,71.54 432.40,70.89 433.41,70.25 434.43,69.62 435.44,69.00 436.45,68.39 437.47,67.80 438.48,67.21 439.49,66.64 440.51,66.08 441.52,65.53 442.53,65.00 443.55,64.47 444.56,63.96 445.57,63.46 446.59,62.97 447.60,62.49 448.61,62.03 449.63,61.57 450.64,61.13 451.65,60.70 452.67,60.28 453.68,59.87 454.69,59.48 455.70,59.09 456.72,58.72 457.73,58.35 458.74,58.00 459.76,57.65 460.77,57.32 461.78,56.99 462.80,56.67 463.81,56.36 464.82,56.06 465.84,55.77 466.85,55.48 467.86,55.20 468.88,54.93 469.89,54.66 470.90,54.40 471.92,54.15 472.93,53.90 473.94,53.66 474.96,53.43 475.97,53.20 476.98,52.98 478.00,52.76 479.01,52.55 480.02,52.35 481.04,52.15 482.05,51.96 483.06,51.78 484.08,51.60 485.09,51.43 486.10,51.26 487.12,51.10 488.13,50.95 489.14,50.80 490.16,50.66 491.17,50.52 492.18,50.39 493.20,50.27 494.21,50.15 495.22,50.04 496.23,49.94 497.25,49.85 498.26,49.76 499.27,49.67 500.29,49.60 501.30,49.53 502.31,49.47 503.33,49.42 504.34,49.38 505.35,49.34 506.37,49.32 507.38,49.30 508.39,49.30 509.41,49.31 510.42,49.32 511.43,49.35 512.45,49.39 513.46,49.43 514.47,49.48 515.49,49.54 516.50,49.60 517.51,49.67 518.53,49.74 519.54,49.81 520.55,49.90 521.57,49.98 522.58,50.07 523.59,50.17 524.61,50.27 525.62,50.38 526.63,50.49 527.65,50.61 528.66,50.74 529.67,50.87 530.69,51.01 531.70,51.15 532.71,51.30 533.73,51.46 534.74,51.62 535.75,51.79 536.76,51.96 537.78,52.15 538.79,52.34 539.80,52.53 540.82,52.73 541.83,52.94 542.84,53.16 543.86,53.38 544.87,53.61 545.88,53.85 546.90,54.09 547.91,54.34 548.92,54.60 549.94,54.86 550.95,55.14 551.96,55.42 552.98,55.70 553.99,55.99 555.00,56.29 556.02,56.60 557.03,56.91 558.04,57.22 559.06,57.55 560.07,57.87 561.08,58.21 562.10,58.55 563.11,58.89 564.12,59.24 565.14,59.60 566.15,59.96 567.16,60.33 568.18,60.69 569.19,61.07 570.20,61.44 571.22,61.82 572.23,62.21 573.24,62.59 574.26,62.98 575.27,63.36 576.28,63.75 577.29,64.14 578.31,64.53 579.32,64.92 580.33,65.31 581.35,65.70 582.36,66.09 583.37,66.47 584.39,66.86 585.40,67.25 586.41,67.64 587.43,68.04 588.44,68.44 589.45,68.84 590.47,69.26 591.48,69.67 592.49,70.10 593.51,70.54 594.52,70.99 595.53,71.45 596.55,71.92 597.56,72.40 598.57,72.90 599.59,73.41 600.60,73.93 601.61,74.47 602.63,75.01 603.64,75.57 604.65,76.14 605.67,76.71 606.68,77.29 607.69,77.88 608.71,78.47 609.72,79.07 610.73,79.67 611.75,80.28 612.76,80.89 613.77,81.50 614.79,82.11 615.80,82.72 616.81,83.34 617.82,83.95 618.84,84.57 619.85,85.19 620.86,85.81 621.88,86.43 622.89,87.05 623.90,87.68 624.92,88.31 625.93,88.94 626.94,89.58 627.96,90.21 628.97,90.85 629.98,91.50 631.00,92.15 632.01,92.80 633.02,93.46 634.04,94.12 635.05,94.78 636.06,95.45 637.08,96.12 638.09,96.79 639.10,97.47 640.12,98.15 641.13,98.83 642.14,99.52 643.16,100.21 644.17,100.90 645.18,101.60 646.20,102.30 647.21,103.00 648.22,103.71 649.24,104.42 650.25,105.13 651.26,105.85 652.28,106.56 653.29,107.29 654.30,108.01 655.32,108.74 656.33,109.47 657.34,110.20 658.36,110.93 659.37,111.67 660.38,112.41 661.39,113.15 662.41,113.90 663.42,114.65 664.43,115.40 665.45,116.15 666.46,116.91 667.47,117.67 668.49,118.43 669.50,119.19 670.51,119.96 671.53,120.73 672.54,121.50 673.55,122.28 674.57,123.05 675.58,123.84 676.59,124.62 677.61,125.41 678.62,126.20 679.63,126.99 680.65,127.79 681.66,128.59 682.67,129.40 683.69,130.20 684.70,131.01 685.71,131.82 686.73,132.64 687.74,133.45 688.75,134.27 689.77,135.09 690.78,135.91 691.79,136.73 692.81,137.55 693.82,138.38 694.83,139.20 695.85,140.03 696.86,140.85 697.87,141.68 698.88,142.51 699.90,143.33 700.91,144.16 701.92,144.99 702.94,145.82 703.95,146.65 704.96,147.48 705.98,148.32 706.99,149.15 708.00,149.98 709.02,150.82 710.03,151.65 711.04,152.49 712.06,153.32 713.07,154.16 714.08,155.00 715.10,155.84 716.11,156.68 717.12,157.52 718.14,158.36 719.15,159.20 720.16,160.04 721.18,160.89 722.19,161.73 723.20,162.57 724.22,163.42 725.23,164.27 726.24,165.11 727.26,165.96 728.27,166.81 729.28,167.66 730.30,168.51 731.31,169.36 732.32,170.22 733.34,171.07 734.35,171.93 735.36,172.78 736.38,173.64 737.39,174.50 738.40,175.36 739.41,176.22 740.43,177.08 741.44,177.94 742.45,178.81 743.47,179.67 744.48,180.54 745.49,181.41 746.51,182.28 747.52,183.15 748.53,184.02 749.55,184.89 750.56,185.77 751.57,186.64 752.59,187.52 753.60,188.40 754.61,189.28 755.63,190.16 756.64,191.04 757.65,191.93 758.67,192.81 759.68,193.70 760.69,194.59 761.71,195.48 762.72,196.37 763.73,197.27 764.75,198.16 765.76,199.06 766.77,199.95 767.79,200.85 768.80,201.75 769.81,202.65 770.83,203.55 771.84,204.45 772.85,205.35 773.87,206.25 774.88,207.16 775.89,208.06 776.91,208.96 777.92,209.86 778.93,210.77 779.94,211.67 780.96,212.57 781.97,213.48 782.98,214.38 784.00,215.28 785.01,216.18 786.02,217.08 787.04,217.98 788.05,218.88 789.06,219.78 790.08,220.68 791.09,221.58 792.10,222.48 793.12,223.37 794.13,224.27 795.14,225.16 796.16,226.05 797.17,226.94 798.18,227.83 799.20,228.71 800.21,229.60 801.22,230.48 802.24,231.37 803.25,232.25 804.26,233.12 805.28,234.00 806.29,234.88 807.30,235.75 808.32,236.62 809.33,237.49 810.34,238.36 811.36,239.23 812.37,240.10 813.38,240.97 814.40,241.83 815.41,242.70 816.42,243.56 817.44,244.43 818.45,245.29 819.46,246.15 820.47,247.01 821.49,247.87 822.50,248.73 823.51,249.59 824.53,250.45 825.54,251.31 826.55,252.17 827.57,253.03 828.58,253.89 829.59,254.74 830.61,255.60 831.62,256.46 832.63,257.32 833.65,258.18 834.66,259.04 835.67,259.90 836.69,260.76 837.70,261.62 838.71,262.48 839.73,263.34 840.74,264.20 841.75,265.06 842.77,265.93 843.78,266.79 844.79,267.65 845.81,268.52 846.82,269.38 847.83,270.25 848.85,271.11 849.86,271.98 850.87,272.85 851.89,273.71 852.90,274.58 853.91,275.45 854.93,276.32 855.94,277.18 856.95,278.05 857.97,278.92 858.98,279.79 859.99,280.65 861.00,281.52 862.02,282.39 863.03,283.26 864.04,284.12 865.06,284.99 866.07,285.86 867.08,286.72 868.10,287.59 869.11,288.46 870.12,289.32 871.14,290.19 872.15,291.05 873.16,291.91 874.18,292.78 875.19,293.64 876.20,294.50 877.22,295.36 878.23,296.22 879.24,297.08 880.26,297.94 881.27,298.80 882.28,299.66 883.30,300.51 884.31,301.37 885.32,302.22 886.34,303.08 887.35,303.93 888.36,304.78 889.38,305.63 890.39,306.48 891.40,307.33 892.42,308.17 893.43,309.02 894.44,309.86 895.46,310.71 896.47,311.55 897.48,312.39 898.50,313.22 899.51,314.06 900.52,314.90 901.53,315.73 902.55,316.56 903.56,317.39 904.57,318.22 905.59,319.05 906.60,319.87 907.61,320.69 908.63,321.51 909.64,322.33 910.65,323.15 911.67,323.97 912.68,324.78 913.69,325.59 914.71,326.40 915.72,327.21 916.73,328.01 917.75,328.81 918.76,329.61 919.77,330.41 920.79,331.21 921.80,332.00" stroke="#0000ff" stroke-width="2.7" fill="none" stroke-linejoin="round"/>
<path d="M109.80,668.00h2.8v12h-2.8zM108.45,669.60h5.5v2.2h-5.5zM108.45,672.90h5.5v2.2h-5.5zM108.45,676.20h5.5v2.2h-5.5zM117.91,632.50h2.8v12h-2.8zM116.56,634.10h5.5v2.2h-5.5zM116.56,637.40h5.5v2.2h-5.5zM116.56,640.70h5.5v2.2h-5.5zM126.01,593.50h2.8v12h-2.8zM124.66,595.10h5.5v2.2h-5.5zM124.66,598.40h5.5v2.2h-5.5zM124.66,601.70h5.5v2.2h-5.5zM134.12,555.30h2.8v12h-2.8zM132.77,556.90h5.5v2.2h-5.5zM132.77,560.20h5.5v2.2h-5.5zM132.77,563.50h5.5v2.2h-5.5zM142.22,520.20h2.8v12h-2.8zM140.87,521.80h5.5v2.2h-5.5zM140.87,525.10h5.5v2.2h-5.5zM140.87,528.40h5.5v2.2h-5.5zM150.33,490.00h2.8v12h-2.8zM148.98,491.60h5.5v2.2h-5.5zM148.98,494.90h5.5v2.2h-5.5zM148.98,498.20h5.5v2.2h-5.5zM158.44,462.00h2.8v12h-2.8zM157.09,463.60h5.5v2.2h-5.5zM157.09,466.90h5.5v2.2h-5.5zM157.09,470.20h5.5v2.2h-5.5zM166.54,437.50h2.8v12h-2.8zM165.19,439.10h5.5v2.2h-5.5zM165.19,442.40h5.5v2.2h-5.5zM165.19,445.70h5.5v2.2h-5.5zM174.65,415.50h2.8v12h-2.8zM173.30,417.10h5.5v2.2h-5.5zM173.30,420.40h5.5v2.2h-5.5zM173.30,423.70h5.5v2.2h-5.5zM182.75,396.30h2.8v12h-2.8zM181.40,397.90h5.5v2.2h-5.5zM181.40,401.20h5.5v2.2h-5.5zM181.40,404.50h5.5v2.2h-5.5zM190.86,380.00h2.8v12h-2.8zM189.51,381.60h5.5v2.2h-5.5zM189.51,384.90h5.5v2.2h-5.5zM189.51,388.20h5.5v2.2h-5.5zM198.97,364.41h2.8v12h-2.8zM197.62,366.01h5.5v2.2h-5.5zM197.62,369.31h5.5v2.2h-5.5zM197.62,372.61h5.5v2.2h-5.5zM207.07,349.08h2.8v12h-2.8zM205.72,350.68h5.5v2.2h-5.5zM205.72,353.98h5.5v2.2h-5.5zM205.72,357.28h5.5v2.2h-5.5zM215.18,334.14h2.8v12h-2.8zM213.83,335.74h5.5v2.2h-5.5zM213.83,339.04h5.5v2.2h-5.5zM213.83,342.34h5.5v2.2h-5.5zM223.28,319.73h2.8v12h-2.8zM221.93,321.33h5.5v2.2h-5.5zM221.93,324.63h5.5v2.2h-5.5zM221.93,327.93h5.5v2.2h-5.5zM231.39,306.00h2.8v12h-2.8zM230.04,307.60h5.5v2.2h-5.5zM230.04,310.90h5.5v2.2h-5.5zM230.04,314.20h5.5v2.2h-5.5zM239.50,293.04h2.8v12h-2.8zM238.15,294.64h5.5v2.2h-5.5zM238.15,297.94h5.5v2.2h-5.5zM238.15,301.24h5.5v2.2h-5.5zM247.60,280.68h2.8v12h-2.8zM246.25,282.28h5.5v2.2h-5.5zM246.25,285.58h5.5v2.2h-5.5zM246.25,288.88h5.5v2.2h-5.5zM255.71,268.73h2.8v12h-2.8zM254.36,270.33h5.5v2.2h-5.5zM254.36,273.63h5.5v2.2h-5.5zM254.36,276.93h5.5v2.2h-5.5zM263.81,256.98h2.8v12h-2.8zM262.46,258.58h5.5v2.2h-5.5zM262.46,261.88h5.5v2.2h-5.5zM262.46,265.18h5.5v2.2h-5.5zM271.92,245.20h2.8v12h-2.8zM270.57,246.80h5.5v2.2h-5.5zM270.57,250.10h5.5v2.2h-5.5zM270.57,253.40h5.5v2.2h-5.5zM280.03,233.25h2.8v12h-2.8zM278.68,234.85h5.5v2.2h-5.5zM278.68,238.15h5.5v2.2h-5.5zM278.68,241.45h5.5v2.2h-5.5zM288.13,221.21h2.8v12h-2.8zM286.78,222.81h5.5v2.2h-5.5zM286.78,226.11h5.5v2.2h-5.5zM286.78,229.41h5.5v2.2h-5.5zM296.24,209.20h2.8v12h-2.8zM294.89,210.80h5.5v2.2h-5.5zM294.89,214.10h5.5v2.2h-5.5zM294.89,217.40h5.5v2.2h-5.5zM304.34,197.35h2.8v12h-2.8zM302.99,198.95h5.5v2.2h-5.5zM302.99,202.25h5.5v2.2h-5.5zM302.99,205.55h5.5v2.2h-5.5zM312.45,185.80h2.8v12h-2.8zM311.10,187.40h5.5v2.2h-5.5zM311.10,190.70h5.5v2.2h-5.5zM311.10,194.00h5.5v2.2h-5.5zM320.56,174.65h2.8v12h-2.8zM319.21,176.25h5.5v2.2h-5.5zM319.21,179.55h5.5v2.2h-5.5zM319.21,182.85h5.5v2.2h-5.5zM328.66,163.91h2.8v12h-2.8zM327.31,165.51h5.5v2.2h-5.5zM327.31,168.81h5.5v2.2h-5.5zM327.31,172.11h5.5v2.2h-5.5zM336.77,153.56h2.8v12h-2.8zM335.42,155.16h5.5v2.2h-5.5zM335.42,158.46h5.5v2.2h-5.5zM335.42,161.76h5.5v2.2h-5.5zM344.87,143.60h2.8v12h-2.8zM343.52,145.20h5.5v2.2h-5.5zM343.52,148.50h5.5v2.2h-5.5zM343.52,151.80h5.5v2.2h-5.5zM352.98,134.00h2.8v12h-2.8zM351.63,135.60h5.5v2.2h-5.5zM351.63,138.90h5.5v2.2h-5.5zM351.63,142.20h5.5v2.2h-5.5zM361.09,124.76h2.8v12h-2.8zM359.74,126.36h5.5v2.2h-5.5zM359.74,129.66h5.5v2.2h-5.5zM359.74,132.96h5.5v2.2h-5.5zM369.19,115.92h2.8v12h-2.8zM367.84,117.52h5.5v2.2h-5.5zM367.84,120.82h5.5v2.2h-5.5zM367.84,124.12h5.5v2.2h-5.5zM377.30,107.52h2.8v12h-2.8zM375.95,109.12h5.5v2.2h-5.5zM375.95,112.42h5.5v2.2h-5.5zM375.95,115.72h5.5v2.2h-5.5zM385.40,99.60h2.8v12h-2.8zM384.05,101.20h5.5v2.2h-5.5zM384.05,104.50h5.5v2.2h-5.5zM384.05,107.80h5.5v2.2h-5.5zM393.51,92.22h2.8v12h-2.8zM392.16,93.82h5.5v2.2h-5.5zM392.16,97.12h5.5v2.2h-5.5zM392.16,100.42h5.5v2.2h-5.5zM401.62,85.50h2.8v12h-2.8zM400.27,87.10h5.5v2.2h-5.5zM400.27,90.40h5.5v2.2h-5.5zM400.27,93.70h5.5v2.2h-5.5zM409.72,79.47h2.8v12h-2.8zM408.37,81.07h5.5v2.2h-5.5zM408.37,84.37h5.5v2.2h-5.5zM408.37,87.67h5.5v2.2h-5.5zM417.83,73.80h2.8v12h-2.8zM416.48,75.40h5.5v2.2h-5.5zM416.48,78.70h5.5v2.2h-5.5zM416.48,82.00h5.5v2.2h-5.5zM425.93,68.22h2.8v12h-2.8zM424.58,69.82h5.5v2.2h-5.5zM424.58,73.12h5.5v2.2h-5.5zM424.58,76.42h5.5v2.2h-5.5zM434.04,63.00h2.8v12h-2.8zM432.69,64.60h5.5v2.2h-5.5zM432.69,67.90h5.5v2.2h-5.5zM432.69,71.20h5.5v2.2h-5.5zM442.15,58.47h2.8v12h-2.8zM440.80,60.07h5.5v2.2h-5.5zM440.80,63.37h5.5v2.2h-5.5zM440.80,66.67h5.5v2.2h-5.5zM450.25,54.70h2.8v12h-2.8zM448.90,56.30h5.5v2.2h-5.5zM448.90,59.60h5.5v2.2h-5.5zM448.90,62.90h5.5v2.2h-5.5zM458.36,51.65h2.8v12h-2.8zM457.01,53.25h5.5v2.2h-5.5zM457.01,56.55h5.5v2.2h-5.5zM457.01,59.85h5.5v2.2h-5.5zM466.46,49.20h2.8v12h-2.8zM465.11,50.80h5.5v2.2h-5.5zM465.11,54.10h5.5v2.2h-5.5zM465.11,57.40h5.5v2.2h-5.5zM474.57,47.20h2.8v12h-2.8zM473.22,48.80h5.5v2.2h-5.5zM473.22,52.10h5.5v2.2h-5.5zM473.22,55.40h5.5v2.2h-5.5zM482.68,45.60h2.8v12h-2.8zM481.33,47.20h5.5v2.2h-5.5zM481.33,50.50h5.5v2.2h-5.5zM481.33,53.80h5.5v2.2h-5.5zM490.78,44.39h2.8v12h-2.8zM489.43,45.99h5.5v2.2h-5.5zM489.43,49.29h5.5v2.2h-5.5zM489.43,52.59h5.5v2.2h-5.5zM498.89,43.60h2.8v12h-2.8zM497.54,45.20h5.5v2.2h-5.5zM497.54,48.50h5.5v2.2h-5.5zM497.54,51.80h5.5v2.2h-5.5zM506.99,43.30h2.8v12h-2.8zM505.64,44.90h5.5v2.2h-5.5zM505.64,48.20h5.5v2.2h-5.5zM505.64,51.50h5.5v2.2h-5.5zM515.10,43.60h2.8v12h-2.8zM513.75,45.20h5.5v2.2h-5.5zM513.75,48.50h5.5v2.2h-5.5zM513.75,51.80h5.5v2.2h-5.5zM523.21,44.27h2.8v12h-2.8zM521.86,45.87h5.5v2.2h-5.5zM521.86,49.17h5.5v2.2h-5.5zM521.86,52.47h5.5v2.2h-5.5zM531.31,45.30h2.8v12h-2.8zM529.96,46.90h5.5v2.2h-5.5zM529.96,50.20h5.5v2.2h-5.5zM529.96,53.50h5.5v2.2h-5.5zM539.42,46.73h2.8v12h-2.8zM538.07,48.33h5.5v2.2h-5.5zM538.07,51.63h5.5v2.2h-5.5zM538.07,54.93h5.5v2.2h-5.5zM547.52,48.60h2.8v12h-2.8zM546.17,50.20h5.5v2.2h-5.5zM546.17,53.50h5.5v2.2h-5.5zM546.17,56.80h5.5v2.2h-5.5zM555.63,50.91h2.8v12h-2.8zM554.28,52.51h5.5v2.2h-5.5zM554.28,55.81h5.5v2.2h-5.5zM554.28,59.11h5.5v2.2h-5.5zM563.74,53.60h2.8v12h-2.8zM562.39,55.20h5.5v2.2h-5.5zM562.39,58.50h5.5v2.2h-5.5zM562.39,61.80h5.5v2.2h-5.5zM571.84,56.59h2.8v12h-2.8zM570.49,58.19h5.5v2.2h-5.5zM570.49,61.49h5.5v2.2h-5.5zM570.49,64.79h5.5v2.2h-5.5zM579.95,59.70h2.8v12h-2.8zM578.60,61.30h5.5v2.2h-5.5zM578.60,64.60h5.5v2.2h-5.5zM578.60,67.90h5.5v2.2h-5.5zM588.05,62.84h2.8v12h-2.8zM586.70,64.44h5.5v2.2h-5.5zM586.70,67.74h5.5v2.2h-5.5zM586.70,71.04h5.5v2.2h-5.5zM596.16,66.40h2.8v12h-2.8zM594.81,68.00h5.5v2.2h-5.5zM594.81,71.30h5.5v2.2h-5.5zM594.81,74.60h5.5v2.2h-5.5zM604.27,70.71h2.8v12h-2.8zM602.92,72.31h5.5v2.2h-5.5zM602.92,75.61h5.5v2.2h-5.5zM602.92,78.91h5.5v2.2h-5.5zM612.37,75.50h2.8v12h-2.8zM611.02,77.10h5.5v2.2h-5.5zM611.02,80.40h5.5v2.2h-5.5zM611.02,83.70h5.5v2.2h-5.5zM620.48,80.43h2.8v12h-2.8zM619.13,82.03h5.5v2.2h-5.5zM619.13,85.33h5.5v2.2h-5.5zM619.13,88.63h5.5v2.2h-5.5zM628.58,85.50h2.8v12h-2.8zM627.23,87.10h5.5v2.2h-5.5zM627.23,90.40h5.5v2.2h-5.5zM627.23,93.70h5.5v2.2h-5.5zM636.69,90.79h2.8v12h-2.8zM635.34,92.39h5.5v2.2h-5.5zM635.34,95.69h5.5v2.2h-5.5zM635.34,98.99h5.5v2.2h-5.5zM644.80,96.30h2.8v12h-2.8zM643.45,97.90h5.5v2.2h-5.5zM643.45,101.20h5.5v2.2h-5.5zM643.45,104.50h5.5v2.2h-5.5zM652.90,102.01h2.8v12h-2.8zM651.55,103.61h5.5v2.2h-5.5zM651.55,106.91h5.5v2.2h-5.5zM651.55,110.21h5.5v2.2h-5.5zM661.01,107.90h2.8v12h-2.8zM659.66,109.50h5.5v2.2h-5.5zM659.66,112.80h5.5v2.2h-5.5zM659.66,116.10h5.5v2.2h-5.5zM669.11,113.96h2.8v12h-2.8zM667.76,115.56h5.5v2.2h-5.5zM667.76,118.86h5.5v2.2h-5.5zM667.76,122.16h5.5v2.2h-5.5zM677.22,120.20h2.8v12h-2.8zM675.87,121.80h5.5v2.2h-5.5zM675.87,125.10h5.5v2.2h-5.5zM675.87,128.40h5.5v2.2h-5.5zM685.33,126.64h2.8v12h-2.8zM683.98,128.24h5.5v2.2h-5.5zM683.98,131.54h5.5v2.2h-5.5zM683.98,134.84h5.5v2.2h-5.5zM693.43,133.20h2.8v12h-2.8zM692.08,134.80h5.5v2.2h-5.5zM692.08,138.10h5.5v2.2h-5.5zM692.08,141.40h5.5v2.2h-5.5zM701.54,139.82h2.8v12h-2.8zM700.19,141.42h5.5v2.2h-5.5zM700.19,144.72h5.5v2.2h-5.5zM700.19,148.02h5.5v2.2h-5.5zM709.64,146.49h2.8v12h-2.8zM708.29,148.09h5.5v2.2h-5.5zM708.29,151.39h5.5v2.2h-5.5zM708.29,154.69h5.5v2.2h-5.5zM717.75,153.20h2.8v12h-2.8zM716.40,154.80h5.5v2.2h-5.5zM716.40,158.10h5.5v2.2h-5.5zM716.40,161.40h5.5v2.2h-5.5zM725.86,159.96h2.8v12h-2.8zM724.51,161.56h5.5v2.2h-5.5zM724.51,164.86h5.5v2.2h-5.5zM724.51,168.16h5.5v2.2h-5.5zM733.96,166.78h2.8v12h-2.8zM732.61,168.38h5.5v2.2h-5.5zM732.61,171.68h5.5v2.2h-5.5zM732.61,174.98h5.5v2.2h-5.5zM742.07,173.67h2.8v12h-2.8zM740.72,175.27h5.5v2.2h-5.5zM740.72,178.57h5.5v2.2h-5.5zM740.72,181.87h5.5v2.2h-5.5zM750.17,180.64h2.8v12h-2.8zM748.82,182.24h5.5v2.2h-5.5zM748.82,185.54h5.5v2.2h-5.5zM748.82,188.84h5.5v2.2h-5.5zM758.28,187.70h2.8v12h-2.8zM756.93,189.30h5.5v2.2h-5.5zM756.93,192.60h5.5v2.2h-5.5zM756.93,195.90h5.5v2.2h-5.5zM766.39,194.85h2.8v12h-2.8zM765.04,196.45h5.5v2.2h-5.5zM765.04,199.75h5.5v2.2h-5.5zM765.04,203.05h5.5v2.2h-5.5zM774.49,202.06h2.8v12h-2.8zM773.14,203.66h5.5v2.2h-5.5zM773.14,206.96h5.5v2.2h-5.5zM773.14,210.26h5.5v2.2h-5.5zM782.60,209.28h2.8v12h-2.8zM781.25,210.88h5.5v2.2h-5.5zM781.25,214.18h5.5v2.2h-5.5zM781.25,217.48h5.5v2.2h-5.5zM790.70,216.48h2.8v12h-2.8zM789.35,218.08h5.5v2.2h-5.5zM789.35,221.38h5.5v2.2h-5.5zM789.35,224.68h5.5v2.2h-5.5zM798.81,223.60h2.8v12h-2.8zM797.46,225.20h5.5v2.2h-5.5zM797.46,228.50h5.5v2.2h-5.5zM797.46,231.80h5.5v2.2h-5.5zM806.92,230.62h2.8v12h-2.8zM805.57,232.22h5.5v2.2h-5.5zM805.57,235.52h5.5v2.2h-5.5zM805.57,238.82h5.5v2.2h-5.5zM815.02,237.56h2.8v12h-2.8zM813.67,239.16h5.5v2.2h-5.5zM813.67,242.46h5.5v2.2h-5.5zM813.67,245.76h5.5v2.2h-5.5zM823.13,244.45h2.8v12h-2.8zM821.78,246.05h5.5v2.2h-5.5zM821.78,249.35h5.5v2.2h-5.5zM821.78,252.65h5.5v2.2h-5.5zM831.23,251.32h2.8v12h-2.8zM829.88,252.92h5.5v2.2h-5.5zM829.88,256.22h5.5v2.2h-5.5zM829.88,259.52h5.5v2.2h-5.5zM839.34,258.20h2.8v12h-2.8zM837.99,259.80h5.5v2.2h-5.5zM837.99,263.10h5.5v2.2h-5.5zM837.99,266.40h5.5v2.2h-5.5zM847.45,265.11h2.8v12h-2.8zM846.10,266.71h5.5v2.2h-5.5zM846.10,270.01h5.5v2.2h-5.5zM846.10,273.31h5.5v2.2h-5.5zM855.55,272.05h2.8v12h-2.8zM854.20,273.65h5.5v2.2h-5.5zM854.20,276.95h5.5v2.2h-5.5zM854.20,280.25h5.5v2.2h-5.5zM863.66,278.99h2.8v12h-2.8zM862.31,280.59h5.5v2.2h-5.5zM862.31,283.89h5.5v2.2h-5.5zM862.31,287.19h5.5v2.2h-5.5zM871.76,285.91h2.8v12h-2.8zM870.41,287.51h5.5v2.2h-5.5zM870.41,290.81h5.5v2.2h-5.5zM870.41,294.11h5.5v2.2h-5.5zM879.87,292.80h2.8v12h-2.8zM878.52,294.40h5.5v2.2h-5.5zM878.52,297.70h5.5v2.2h-5.5zM878.52,301.00h5.5v2.2h-5.5zM887.98,299.63h2.8v12h-2.8zM886.63,301.23h5.5v2.2h-5.5zM886.63,304.53h5.5v2.2h-5.5zM886.63,307.83h5.5v2.2h-5.5zM896.08,306.39h2.8v12h-2.8zM894.73,307.99h5.5v2.2h-5.5zM894.73,311.29h5.5v2.2h-5.5zM894.73,314.59h5.5v2.2h-5.5zM904.19,313.05h2.8v12h-2.8zM902.84,314.65h5.5v2.2h-5.5zM902.84,317.95h5.5v2.2h-5.5zM902.84,321.25h5.5v2.2h-5.5zM912.29,319.59h2.8v12h-2.8zM910.94,321.19h5.5v2.2h-5.5zM910.94,324.49h5.5v2.2h-5.5zM910.94,327.79h5.5v2.2h-5.5zM920.40,326.00h2.8v12h-2.8zM919.05,327.60h5.5v2.2h-5.5zM919.05,330.90h5.5v2.2h-5.5zM919.05,334.20h5.5v2.2h-5.5z" fill="#0000ff"/>
<text x="97.2" y="759.1" text-anchor="end" class="tk">0</text>
<text x="97.2" y="613.7" text-anchor="end" class="tk">0.1</text>
<text x="97.2" y="468.3" text-anchor="end" class="tk">0.2</text>
<text x="97.2" y="323.0" text-anchor="end" class="tk">0.3</text>
<text x="97.2" y="177.6" text-anchor="end" class="tk">0.4</text>
<text x="97.2" y="32.2" text-anchor="end" class="tk">0.5</text>
<text x="115.7" y="790.2" text-anchor="middle" class="tk">0</text>
<text x="195.5" y="790.2" text-anchor="middle" class="tk">10</text>
<text x="275.3" y="790.2" text-anchor="middle" class="tk">20</text>
<text x="356.5" y="790.2" text-anchor="middle" class="tk">30</text>
<text x="437.3" y="790.2" text-anchor="middle" class="tk">40</text>
<text x="518.9" y="790.2" text-anchor="middle" class="tk">50</text>
<text x="599.8" y="790.2" text-anchor="middle" class="tk">60</text>
<text x="680.9" y="790.2" text-anchor="middle" class="tk">70</text>
<text x="762.2" y="790.2" text-anchor="middle" class="tk">80</text>
<text x="843.4" y="790.2" text-anchor="middle" class="tk">90</text>
<text x="924.6" y="790.2" text-anchor="middle" class="tk">100</text>
<text x="521.8" y="839.4" text-anchor="middle" class="xl">Time (days)</text>
<text transform="translate(29.0,410.6) rotate(-90)" x="0" y="0" text-anchor="middle" class="lb">Infectious (Patch 1)</text>
<rect x="760.00" y="31.00" width="157.80" height="98.00" fill="#fff" stroke="#000" stroke-width="1.8"/>
<path d="M764.70,57.05H790.80" stroke="#ff0000" stroke-width="2.2"/>
<path d="M776.30,51.05h2.8v12h-2.8zM774.95,52.65h5.5v2.2h-5.5zM774.95,55.95h5.5v2.2h-5.5zM774.95,59.25h5.5v2.2h-5.5z" fill="#ff0000"/>
<path d="M764.70,103.30H790.80" stroke="#0000ff" stroke-width="2.2"/>
<path d="M776.30,97.30h2.8v12h-2.8zM774.95,98.90h5.5v2.2h-5.5zM774.95,102.20h5.5v2.2h-5.5zM774.95,105.50h5.5v2.2h-5.5z" fill="#0000ff"/>
<text x="798.0" y="56.8" class="lg" textLength="78.5" lengthAdjust="spacingAndGlyphs">Optimal</text>
<text x="798.0" y="83.7" class="lg" textLength="73.5" lengthAdjust="spacingAndGlyphs">Control</text>
<text x="798.0" y="113.5" class="lg" textLength="109.5" lengthAdjust="spacingAndGlyphs">No Control</text>
<text x="491.8" y="892.6" class="par">(</text>
<text transform="translate(506.8,892.8) scale(1.33,1)" class="cap" style="font-size:37.5px">a</text>
<text x="530.4" y="892.6" class="par">)</text>
<path d="M1247.10,21.00V746.40M1328.20,21.00V746.40M1409.30,21.00V746.40M1490.40,21.00V746.40M1571.50,21.00V746.40M1652.60,21.00V746.40M1733.70,21.00V746.40M1814.80,21.00V746.40M1895.90,21.00V746.40M1166.00,665.80H1977.00M1166.00,585.20H1977.00M1166.00,504.60H1977.00M1166.00,424.00H1977.00M1166.00,343.40H1977.00M1166.00,262.80H1977.00M1166.00,182.20H1977.00M1166.00,101.60H1977.00" stroke="#1a1a1a" stroke-width="2.0" stroke-dasharray="1.1 4.73" fill="none"/>
<path d="M1247.10,746.40v-18M1247.10,21.00v18M1328.20,746.40v-18M1328.20,21.00v18M1409.30,746.40v-18M1409.30,21.00v18M1490.40,746.40v-18M1490.40,21.00v18M1571.50,746.40v-18M1571.50,21.00v18M1652.60,746.40v-18M1652.60,21.00v18M1733.70,746.40v-18M1733.70,21.00v18M1814.80,746.40v-18M1814.80,21.00v18M1895.90,746.40v-18M1895.90,21.00v18M1166.00,665.80h8M1977.00,665.80h-8M1166.00,585.20h8M1977.00,585.20h-8M1166.00,504.60h8M1977.00,504.60h-8M1166.00,424.00h8M1977.00,424.00h-8M1166.00,343.40h8M1977.00,343.40h-8M1166.00,262.80h8M1977.00,262.80h-8M1166.00,182.20h8M1977.00,182.20h-8M1166.00,101.60h8M1977.00,101.60h-8" stroke="#000" stroke-width="1.8" fill="none"/>
<rect x="1166.00" y="21.00" width="811.00" height="725.40" stroke="#000" stroke-width="1.8" fill="none"/>
<polyline points="1166.00,705.90 1167.01,694.96 1168.03,684.19 1169.04,673.59 1170.06,663.16 1171.07,652.89 1172.08,642.77 1173.10,632.81 1174.11,623.00 1175.12,613.34 1176.14,603.82 1177.15,594.45 1178.16,585.22 1179.18,576.12 1180.19,567.15 1181.21,558.31 1182.22,549.60 1183.23,541.01 1184.25,532.53 1185.26,524.16 1186.28,515.89 1187.29,507.70 1188.30,499.60 1189.32,491.57 1190.33,483.60 1191.34,475.69 1192.36,467.87 1193.37,460.14 1194.38,452.55 1195.40,445.12 1196.41,437.87 1197.43,430.82 1198.44,424.00 1199.45,417.43 1200.47,411.07 1201.48,404.90 1202.49,398.86 1203.51,392.92 1204.52,387.04 1205.54,381.18 1206.55,375.30 1207.56,369.38 1208.58,363.43 1209.59,357.48 1210.61,351.56 1211.62,345.70 1212.63,339.94 1213.65,334.29 1214.66,328.80 1215.67,323.48 1216.69,318.32 1217.70,313.30 1218.71,308.41 1219.73,303.62 1220.74,298.92 1221.76,294.29 1222.77,289.70 1223.78,285.15 1224.80,280.63 1225.81,276.16 1226.83,271.74 1227.84,267.37 1228.85,263.07 1229.87,258.85 1230.88,254.70 1231.89,250.64 1232.91,246.66 1233.92,242.77 1234.93,238.97 1235.95,235.25 1236.96,231.62 1237.98,228.07 1238.99,224.60 1240.00,221.22 1241.02,217.91 1242.03,214.67 1243.05,211.50 1244.06,208.38 1245.07,205.31 1246.09,202.29 1247.10,199.30 1248.11,196.34 1249.13,193.42 1250.14,190.53 1251.15,187.68 1252.17,184.87 1253.18,182.10 1254.20,179.38 1255.21,176.70 1256.22,174.07 1257.24,171.50 1258.25,168.98 1259.27,166.51 1260.28,164.09 1261.29,161.74 1262.31,159.44 1263.32,157.20 1264.33,155.02 1265.35,152.90 1266.36,150.83 1267.38,148.81 1268.39,146.85 1269.40,144.92 1270.42,143.04 1271.43,141.20 1272.44,139.40 1273.46,137.63 1274.47,135.90 1275.48,134.21 1276.50,132.57 1277.51,130.97 1278.53,129.41 1279.54,127.90 1280.55,126.44 1281.57,125.02 1282.58,123.64 1283.60,122.29 1284.61,120.98 1285.62,119.70 1286.64,118.44 1287.65,117.20 1288.66,115.98 1289.68,114.78 1290.69,113.61 1291.70,112.47 1292.72,111.38 1293.73,110.33 1294.75,109.34 1295.76,108.40 1296.77,107.53 1297.79,106.71 1298.80,105.95 1299.82,105.22 1300.83,104.53 1301.84,103.87 1302.86,103.23 1303.87,102.60 1304.88,101.98 1305.90,101.36 1306.91,100.76 1307.92,100.19 1308.94,99.64 1309.95,99.12 1310.97,98.64 1311.98,98.20 1312.99,97.81 1314.01,97.46 1315.02,97.16 1316.04,96.88 1317.05,96.63 1318.06,96.41 1319.08,96.20 1320.09,96.00 1321.10,95.81 1322.12,95.63 1323.13,95.46 1324.14,95.31 1325.16,95.19 1326.17,95.09 1327.19,95.03 1328.20,95.00 1329.21,95.02 1330.23,95.07 1331.24,95.16 1332.26,95.28 1333.27,95.43 1334.28,95.60 1335.30,95.79 1336.31,96.00 1337.32,96.22 1338.34,96.46 1339.35,96.71 1340.37,96.98 1341.38,97.26 1342.39,97.56 1343.41,97.87 1344.42,98.20 1345.43,98.55 1346.45,98.91 1347.46,99.29 1348.47,99.68 1349.49,100.07 1350.50,100.48 1351.52,100.89 1352.53,101.30 1353.54,101.71 1354.56,102.13 1355.57,102.55 1356.59,102.98 1357.60,103.41 1358.61,103.86 1359.63,104.32 1360.64,104.80 1361.65,105.29 1362.67,105.81 1363.68,106.34 1364.69,106.89 1365.71,107.46 1366.72,108.05 1367.74,108.66 1368.75,109.30 1369.76,109.96 1370.78,110.63 1371.79,111.31 1372.81,112.00 1373.82,112.68 1374.83,113.34 1375.85,113.98 1376.86,114.60 1377.87,115.18 1378.89,115.74 1379.90,116.28 1380.91,116.81 1381.93,117.34 1382.94,117.87 1383.96,118.42 1384.97,119.00 1385.98,119.61 1387.00,120.25 1388.01,120.92 1389.03,121.62 1390.04,122.35 1391.05,123.10 1392.07,123.88 1393.08,124.68 1394.09,125.50 1395.11,126.34 1396.12,127.20 1397.13,128.08 1398.15,128.97 1399.16,129.87 1400.18,130.79 1401.19,131.71 1402.20,132.65 1403.22,133.59 1404.23,134.53 1405.24,135.49 1406.26,136.44 1407.27,137.39 1408.29,138.35 1409.30,139.30 1410.31,140.25 1411.33,141.19 1412.34,142.14 1413.36,143.08 1414.37,144.01 1415.38,144.95 1416.40,145.88 1417.41,146.81 1418.42,147.74 1419.44,148.67 1420.45,149.60 1421.46,150.53 1422.48,151.46 1423.49,152.39 1424.51,153.33 1425.52,154.26 1426.53,155.19 1427.55,156.13 1428.56,157.07 1429.58,158.01 1430.59,158.95 1431.60,159.90 1432.62,160.85 1433.63,161.81 1434.64,162.77 1435.66,163.73 1436.67,164.70 1437.68,165.68 1438.70,166.66 1439.71,167.64 1440.73,168.63 1441.74,169.63 1442.75,170.64 1443.77,171.65 1444.78,172.67 1445.80,173.70 1446.81,174.74 1447.82,175.78 1448.84,176.84 1449.85,177.90 1450.86,178.97 1451.88,180.06 1452.89,181.15 1453.90,182.25 1454.92,183.36 1455.93,184.47 1456.95,185.60 1457.96,186.73 1458.97,187.87 1459.99,189.02 1461.00,190.17 1462.01,191.33 1463.03,192.50 1464.04,193.67 1465.06,194.85 1466.07,196.03 1467.08,197.22 1468.10,198.41 1469.11,199.61 1470.12,200.81 1471.14,202.02 1472.15,203.23 1473.17,204.44 1474.18,205.65 1475.19,206.87 1476.21,208.09 1477.22,209.32 1478.24,210.54 1479.25,211.77 1480.26,213.00 1481.28,214.23 1482.29,215.46 1483.30,216.69 1484.32,217.92 1485.33,219.15 1486.35,220.38 1487.36,221.61 1488.37,222.84 1489.39,224.07 1490.40,225.30 1491.41,226.53 1492.43,227.75 1493.44,228.97 1494.45,230.19 1495.47,231.41 1496.48,232.63 1497.50,233.84 1498.51,235.06 1499.52,236.27 1500.54,237.48 1501.55,238.69 1502.57,239.90 1503.58,241.10 1504.59,242.31 1505.61,243.51 1506.62,244.72 1507.63,245.92 1508.65,247.12 1509.66,248.31 1510.67,249.51 1511.69,250.71 1512.70,251.90 1513.72,253.09 1514.73,254.28 1515.74,255.48 1516.76,256.66 1517.77,257.85 1518.79,259.04 1519.80,260.23 1520.81,261.41 1521.83,262.59 1522.84,263.78 1523.85,264.96 1524.87,266.14 1525.88,267.32 1526.89,268.50 1527.91,269.67 1528.92,270.85 1529.94,272.03 1530.95,273.20 1531.96,274.37 1532.98,275.55 1533.99,276.72 1535.01,277.89 1536.02,279.06 1537.03,280.23 1538.05,281.40 1539.06,282.57 1540.07,283.73 1541.09,284.90 1542.10,286.07 1543.12,287.23 1544.13,288.40 1545.14,289.56 1546.16,290.72 1547.17,291.89 1548.18,293.05 1549.20,294.21 1550.21,295.37 1551.22,296.53 1552.24,297.70 1553.25,298.86 1554.27,300.02 1555.28,301.18 1556.29,302.33 1557.31,303.49 1558.32,304.65 1559.34,305.81 1560.35,306.97 1561.36,308.13 1562.38,309.28 1563.39,310.44 1564.40,311.60 1565.42,312.76 1566.43,313.91 1567.44,315.07 1568.46,316.23 1569.47,317.39 1570.49,318.54 1571.50,319.70 1572.51,320.86 1573.53,322.01 1574.54,323.17 1575.56,324.33 1576.57,325.48 1577.58,326.64 1578.60,327.80 1579.61,328.95 1580.62,330.10 1581.64,331.26 1582.65,332.41 1583.66,333.56 1584.68,334.71 1585.69,335.86 1586.71,337.00 1587.72,338.15 1588.73,339.29 1589.75,340.43 1590.76,341.57 1591.78,342.71 1592.79,343.85 1593.80,344.98 1594.82,346.11 1595.83,347.24 1596.84,348.37 1597.86,349.49 1598.87,350.62 1599.88,351.73 1600.90,352.85 1601.91,353.96 1602.93,355.07 1603.94,356.18 1604.95,357.28 1605.97,358.38 1606.98,359.48 1607.99,360.57 1609.01,361.66 1610.02,362.74 1611.04,363.82 1612.05,364.90 1613.06,365.97 1614.08,367.04 1615.09,368.11 1616.11,369.17 1617.12,370.22 1618.13,371.28 1619.15,372.33 1620.16,373.37 1621.17,374.42 1622.19,375.46 1623.20,376.50 1624.21,377.53 1625.23,378.57 1626.24,379.60 1627.26,380.63 1628.27,381.65 1629.28,382.68 1630.30,383.70 1631.31,384.72 1632.33,385.74 1633.34,386.76 1634.35,387.77 1635.37,388.79 1636.38,389.80 1637.39,390.82 1638.41,391.83 1639.42,392.84 1640.43,393.85 1641.45,394.86 1642.46,395.87 1643.48,396.88 1644.49,397.89 1645.50,398.91 1646.52,399.92 1647.53,400.93 1648.55,401.94 1649.56,402.95 1650.57,403.97 1651.59,404.98 1652.60,406.00 1653.61,407.02 1654.63,408.04 1655.64,409.06 1656.65,410.08 1657.67,411.10 1658.68,412.12 1659.70,413.14 1660.71,414.17 1661.72,415.19 1662.74,416.21 1663.75,417.24 1664.76,418.26 1665.78,419.29 1666.79,420.31 1667.81,421.33 1668.82,422.36 1669.83,423.38 1670.85,424.40 1671.86,425.42 1672.88,426.44 1673.89,427.46 1674.90,428.48 1675.92,429.50 1676.93,430.51 1677.94,431.53 1678.96,432.54 1679.97,433.55 1680.99,434.56 1682.00,435.57 1683.01,436.58 1684.03,437.58 1685.04,438.58 1686.05,439.58 1687.07,440.58 1688.08,441.57 1689.10,442.56 1690.11,443.55 1691.12,444.54 1692.14,445.52 1693.15,446.50 1694.16,447.48 1695.18,448.45 1696.19,449.42 1697.20,450.39 1698.22,451.35 1699.23,452.31 1700.25,453.27 1701.26,454.23 1702.27,455.18 1703.29,456.13 1704.30,457.08 1705.32,458.02 1706.33,458.96 1707.34,459.91 1708.36,460.84 1709.37,461.78 1710.38,462.71 1711.40,463.64 1712.41,464.57 1713.42,465.50 1714.44,466.42 1715.45,467.35 1716.47,468.27 1717.48,469.19 1718.49,470.10 1719.51,471.02 1720.52,471.93 1721.53,472.85 1722.55,473.76 1723.56,474.67 1724.58,475.58 1725.59,476.48 1726.60,477.39 1727.62,478.29 1728.63,479.20 1729.64,480.10 1730.66,481.00 1731.67,481.90 1732.69,482.80 1733.70,483.70 1734.71,484.60 1735.73,485.50 1736.74,486.39 1737.76,487.29 1738.77,488.18 1739.78,489.07 1740.80,489.97 1741.81,490.86 1742.82,491.75 1743.84,492.64 1744.85,493.52 1745.87,494.41 1746.88,495.29 1747.89,496.18 1748.91,497.06 1749.92,497.94 1750.93,498.81 1751.95,499.69 1752.96,500.56 1753.97,501.44 1754.99,502.31 1756.00,503.18 1757.02,504.04 1758.03,504.91 1759.04,505.77 1760.06,506.63 1761.07,507.49 1762.09,508.34 1763.10,509.19 1764.11,510.04 1765.13,510.89 1766.14,511.74 1767.15,512.58 1768.17,513.42 1769.18,514.26 1770.20,515.09 1771.21,515.92 1772.22,516.75 1773.24,517.58 1774.25,518.40 1775.26,519.22 1776.28,520.04 1777.29,520.85 1778.30,521.66 1779.32,522.47 1780.33,523.27 1781.35,524.08 1782.36,524.88 1783.37,525.67 1784.39,526.47 1785.40,527.26 1786.41,528.05 1787.43,528.84 1788.44,529.63 1789.46,530.41 1790.47,531.20 1791.48,531.98 1792.50,532.76 1793.51,533.54 1794.53,534.32 1795.54,535.09 1796.55,535.87 1797.57,536.64 1798.58,537.41 1799.59,538.18 1800.61,538.95 1801.62,539.72 1802.63,540.49 1803.65,541.26 1804.66,542.03 1805.68,542.80 1806.69,543.56 1807.70,544.33 1808.72,545.10 1809.73,545.86 1810.74,546.63 1811.76,547.40 1812.77,548.17 1813.79,548.93 1814.80,549.70 1815.81,550.47 1816.83,551.24 1817.84,552.01 1818.86,552.77 1819.87,553.54 1820.88,554.31 1821.90,555.08 1822.91,555.85 1823.92,556.62 1824.94,557.39 1825.95,558.15 1826.97,558.92 1827.98,559.69 1828.99,560.45 1830.01,561.22 1831.02,561.98 1832.03,562.74 1833.05,563.51 1834.06,564.27 1835.08,565.03 1836.09,565.78 1837.10,566.54 1838.12,567.30 1839.13,568.05 1840.14,568.80 1841.16,569.55 1842.17,570.30 1843.18,571.04 1844.20,571.79 1845.21,572.53 1846.23,573.27 1847.24,574.00 1848.25,574.74 1849.27,575.47 1850.28,576.20 1851.30,576.92 1852.31,577.65 1853.32,578.37 1854.34,579.09 1855.35,579.80 1856.36,580.51 1857.38,581.22 1858.39,581.92 1859.40,582.63 1860.42,583.32 1861.43,584.02 1862.45,584.71 1863.46,585.40 1864.47,586.09 1865.49,586.77 1866.50,587.45 1867.51,588.13 1868.53,588.81 1869.54,589.48 1870.56,590.15 1871.57,590.82 1872.58,591.49 1873.60,592.15 1874.61,592.81 1875.62,593.47 1876.64,594.12 1877.65,594.78 1878.67,595.43 1879.68,596.08 1880.69,596.72 1881.71,597.37 1882.72,598.01 1883.74,598.65 1884.75,599.29 1885.76,599.93 1886.78,600.56 1887.79,601.20 1888.80,601.83 1889.82,602.46 1890.83,603.09 1891.85,603.71 1892.86,604.34 1893.87,604.96 1894.89,605.58 1895.90,606.20 1896.91,606.82 1897.93,607.44 1898.94,608.05 1899.95,608.66 1900.97,609.28 1901.98,609.89 1903.00,610.50 1904.01,611.11 1905.02,611.71 1906.04,612.32 1907.05,612.93 1908.07,613.53 1909.08,614.13 1910.09,614.73 1911.11,615.33 1912.12,615.93 1913.13,616.53 1914.15,617.13 1915.16,617.72 1916.17,618.31 1917.19,618.91 1918.20,619.50 1919.22,620.09 1920.23,620.68 1921.24,621.27 1922.26,621.86 1923.27,622.45 1924.28,623.03 1925.30,623.62 1926.31,624.20 1927.33,624.78 1928.34,625.37 1929.35,625.95 1930.37,626.53 1931.38,627.11 1932.39,627.69 1933.41,628.27 1934.42,628.85 1935.44,629.42 1936.45,630.00 1937.46,630.58 1938.48,631.15 1939.49,631.73 1940.51,632.30 1941.52,632.87 1942.53,633.44 1943.55,634.02 1944.56,634.59 1945.57,635.16 1946.59,635.73 1947.60,636.30 1948.62,636.87 1949.63,637.44 1950.64,638.01 1951.66,638.57 1952.67,639.14 1953.68,639.71 1954.70,640.28 1955.71,640.84 1956.72,641.41 1957.74,641.98 1958.75,642.54 1959.77,643.11 1960.78,643.67 1961.79,644.24 1962.81,644.80 1963.82,645.37 1964.84,645.93 1965.85,646.50 1966.86,647.06 1967.88,647.62 1968.89,648.19 1969.90,648.75 1970.92,649.32 1971.93,649.88 1972.95,650.44 1973.96,651.01 1974.97,651.57 1975.99,652.14 1977.00,652.70" stroke="#ff0000" stroke-width="2.7" fill="none" stroke-linejoin="round"/>
<path d="M1164.60,699.90h2.8v12h-2.8zM1163.25,701.50h5.5v2.2h-5.5zM1163.25,704.80h5.5v2.2h-5.5zM1163.25,708.10h5.5v2.2h-5.5zM1172.71,617.00h2.8v12h-2.8zM1171.36,618.60h5.5v2.2h-5.5zM1171.36,621.90h5.5v2.2h-5.5zM1171.36,625.20h5.5v2.2h-5.5zM1180.82,543.60h2.8v12h-2.8zM1179.47,545.20h5.5v2.2h-5.5zM1179.47,548.50h5.5v2.2h-5.5zM1179.47,551.80h5.5v2.2h-5.5zM1188.93,477.60h2.8v12h-2.8zM1187.58,479.20h5.5v2.2h-5.5zM1187.58,482.50h5.5v2.2h-5.5zM1187.58,485.80h5.5v2.2h-5.5zM1197.04,418.00h2.8v12h-2.8zM1195.69,419.60h5.5v2.2h-5.5zM1195.69,422.90h5.5v2.2h-5.5zM1195.69,426.20h5.5v2.2h-5.5zM1205.15,369.30h2.8v12h-2.8zM1203.80,370.90h5.5v2.2h-5.5zM1203.80,374.20h5.5v2.2h-5.5zM1203.80,377.50h5.5v2.2h-5.5zM1213.26,322.80h2.8v12h-2.8zM1211.91,324.40h5.5v2.2h-5.5zM1211.91,327.70h5.5v2.2h-5.5zM1211.91,331.00h5.5v2.2h-5.5zM1221.37,283.70h2.8v12h-2.8zM1220.02,285.30h5.5v2.2h-5.5zM1220.02,288.60h5.5v2.2h-5.5zM1220.02,291.90h5.5v2.2h-5.5zM1229.48,248.70h2.8v12h-2.8zM1228.13,250.30h5.5v2.2h-5.5zM1228.13,253.60h5.5v2.2h-5.5zM1228.13,256.90h5.5v2.2h-5.5zM1237.59,218.60h2.8v12h-2.8zM1236.24,220.20h5.5v2.2h-5.5zM1236.24,223.50h5.5v2.2h-5.5zM1236.24,226.80h5.5v2.2h-5.5zM1245.70,193.30h2.8v12h-2.8zM1244.35,194.90h5.5v2.2h-5.5zM1244.35,198.20h5.5v2.2h-5.5zM1244.35,201.50h5.5v2.2h-5.5zM1253.81,170.70h2.8v12h-2.8zM1252.46,172.30h5.5v2.2h-5.5zM1252.46,175.60h5.5v2.2h-5.5zM1252.46,178.90h5.5v2.2h-5.5zM1261.92,151.20h2.8v12h-2.8zM1260.57,152.80h5.5v2.2h-5.5zM1260.57,156.10h5.5v2.2h-5.5zM1260.57,159.40h5.5v2.2h-5.5zM1270.03,135.20h2.8v12h-2.8zM1268.68,136.80h5.5v2.2h-5.5zM1268.68,140.10h5.5v2.2h-5.5zM1268.68,143.40h5.5v2.2h-5.5zM1278.14,121.90h2.8v12h-2.8zM1276.79,123.50h5.5v2.2h-5.5zM1276.79,126.80h5.5v2.2h-5.5zM1276.79,130.10h5.5v2.2h-5.5zM1286.25,111.20h2.8v12h-2.8zM1284.90,112.80h5.5v2.2h-5.5zM1284.90,116.10h5.5v2.2h-5.5zM1284.90,119.40h5.5v2.2h-5.5zM1294.36,102.40h2.8v12h-2.8zM1293.01,104.00h5.5v2.2h-5.5zM1293.01,107.30h5.5v2.2h-5.5zM1293.01,110.60h5.5v2.2h-5.5zM1302.47,96.60h2.8v12h-2.8zM1301.12,98.20h5.5v2.2h-5.5zM1301.12,101.50h5.5v2.2h-5.5zM1301.12,104.80h5.5v2.2h-5.5zM1310.58,92.20h2.8v12h-2.8zM1309.23,93.80h5.5v2.2h-5.5zM1309.23,97.10h5.5v2.2h-5.5zM1309.23,100.40h5.5v2.2h-5.5zM1318.69,90.00h2.8v12h-2.8zM1317.34,91.60h5.5v2.2h-5.5zM1317.34,94.90h5.5v2.2h-5.5zM1317.34,98.20h5.5v2.2h-5.5zM1326.80,89.00h2.8v12h-2.8zM1325.45,90.60h5.5v2.2h-5.5zM1325.45,93.90h5.5v2.2h-5.5zM1325.45,97.20h5.5v2.2h-5.5zM1334.91,90.00h2.8v12h-2.8zM1333.56,91.60h5.5v2.2h-5.5zM1333.56,94.90h5.5v2.2h-5.5zM1333.56,98.20h5.5v2.2h-5.5zM1343.02,92.20h2.8v12h-2.8zM1341.67,93.80h5.5v2.2h-5.5zM1341.67,97.10h5.5v2.2h-5.5zM1341.67,100.40h5.5v2.2h-5.5zM1351.13,95.30h2.8v12h-2.8zM1349.78,96.90h5.5v2.2h-5.5zM1349.78,100.20h5.5v2.2h-5.5zM1349.78,103.50h5.5v2.2h-5.5zM1359.24,98.80h2.8v12h-2.8zM1357.89,100.40h5.5v2.2h-5.5zM1357.89,103.70h5.5v2.2h-5.5zM1357.89,107.00h5.5v2.2h-5.5zM1367.35,103.30h2.8v12h-2.8zM1366.00,104.90h5.5v2.2h-5.5zM1366.00,108.20h5.5v2.2h-5.5zM1366.00,111.50h5.5v2.2h-5.5zM1375.46,108.60h2.8v12h-2.8zM1374.11,110.20h5.5v2.2h-5.5zM1374.11,113.50h5.5v2.2h-5.5zM1374.11,116.80h5.5v2.2h-5.5zM1383.57,113.00h2.8v12h-2.8zM1382.22,114.60h5.5v2.2h-5.5zM1382.22,117.90h5.5v2.2h-5.5zM1382.22,121.20h5.5v2.2h-5.5zM1391.68,118.68h2.8v12h-2.8zM1390.33,120.28h5.5v2.2h-5.5zM1390.33,123.58h5.5v2.2h-5.5zM1390.33,126.88h5.5v2.2h-5.5zM1399.79,125.71h2.8v12h-2.8zM1398.44,127.31h5.5v2.2h-5.5zM1398.44,130.61h5.5v2.2h-5.5zM1398.44,133.91h5.5v2.2h-5.5zM1407.90,133.30h2.8v12h-2.8zM1406.55,134.90h5.5v2.2h-5.5zM1406.55,138.20h5.5v2.2h-5.5zM1406.55,141.50h5.5v2.2h-5.5zM1416.01,140.81h2.8v12h-2.8zM1414.66,142.41h5.5v2.2h-5.5zM1414.66,145.71h5.5v2.2h-5.5zM1414.66,149.01h5.5v2.2h-5.5zM1424.12,148.26h2.8v12h-2.8zM1422.77,149.86h5.5v2.2h-5.5zM1422.77,153.16h5.5v2.2h-5.5zM1422.77,156.46h5.5v2.2h-5.5zM1432.23,155.81h2.8v12h-2.8zM1430.88,157.41h5.5v2.2h-5.5zM1430.88,160.71h5.5v2.2h-5.5zM1430.88,164.01h5.5v2.2h-5.5zM1440.34,163.63h2.8v12h-2.8zM1438.99,165.23h5.5v2.2h-5.5zM1438.99,168.53h5.5v2.2h-5.5zM1438.99,171.83h5.5v2.2h-5.5zM1448.45,171.90h2.8v12h-2.8zM1447.10,173.50h5.5v2.2h-5.5zM1447.10,176.80h5.5v2.2h-5.5zM1447.10,180.10h5.5v2.2h-5.5zM1456.56,180.73h2.8v12h-2.8zM1455.21,182.33h5.5v2.2h-5.5zM1455.21,185.63h5.5v2.2h-5.5zM1455.21,188.93h5.5v2.2h-5.5zM1464.67,190.03h2.8v12h-2.8zM1463.32,191.63h5.5v2.2h-5.5zM1463.32,194.93h5.5v2.2h-5.5zM1463.32,198.23h5.5v2.2h-5.5zM1472.78,199.65h2.8v12h-2.8zM1471.43,201.25h5.5v2.2h-5.5zM1471.43,204.55h5.5v2.2h-5.5zM1471.43,207.85h5.5v2.2h-5.5zM1480.89,209.46h2.8v12h-2.8zM1479.54,211.06h5.5v2.2h-5.5zM1479.54,214.36h5.5v2.2h-5.5zM1479.54,217.66h5.5v2.2h-5.5zM1489.00,219.30h2.8v12h-2.8zM1487.65,220.90h5.5v2.2h-5.5zM1487.65,224.20h5.5v2.2h-5.5zM1487.65,227.50h5.5v2.2h-5.5zM1497.11,229.06h2.8v12h-2.8zM1495.76,230.66h5.5v2.2h-5.5zM1495.76,233.96h5.5v2.2h-5.5zM1495.76,237.26h5.5v2.2h-5.5zM1505.22,238.72h2.8v12h-2.8zM1503.87,240.32h5.5v2.2h-5.5zM1503.87,243.62h5.5v2.2h-5.5zM1503.87,246.92h5.5v2.2h-5.5zM1513.33,248.28h2.8v12h-2.8zM1511.98,249.88h5.5v2.2h-5.5zM1511.98,253.18h5.5v2.2h-5.5zM1511.98,256.48h5.5v2.2h-5.5zM1521.44,257.78h2.8v12h-2.8zM1520.09,259.38h5.5v2.2h-5.5zM1520.09,262.68h5.5v2.2h-5.5zM1520.09,265.98h5.5v2.2h-5.5zM1529.55,267.20h2.8v12h-2.8zM1528.20,268.80h5.5v2.2h-5.5zM1528.20,272.10h5.5v2.2h-5.5zM1528.20,275.40h5.5v2.2h-5.5zM1537.66,276.57h2.8v12h-2.8zM1536.31,278.17h5.5v2.2h-5.5zM1536.31,281.47h5.5v2.2h-5.5zM1536.31,284.77h5.5v2.2h-5.5zM1545.77,285.89h2.8v12h-2.8zM1544.42,287.49h5.5v2.2h-5.5zM1544.42,290.79h5.5v2.2h-5.5zM1544.42,294.09h5.5v2.2h-5.5zM1553.88,295.18h2.8v12h-2.8zM1552.53,296.78h5.5v2.2h-5.5zM1552.53,300.08h5.5v2.2h-5.5zM1552.53,303.38h5.5v2.2h-5.5zM1561.99,304.44h2.8v12h-2.8zM1560.64,306.04h5.5v2.2h-5.5zM1560.64,309.34h5.5v2.2h-5.5zM1560.64,312.64h5.5v2.2h-5.5zM1570.10,313.70h2.8v12h-2.8zM1568.75,315.30h5.5v2.2h-5.5zM1568.75,318.60h5.5v2.2h-5.5zM1568.75,321.90h5.5v2.2h-5.5zM1578.21,322.95h2.8v12h-2.8zM1576.86,324.55h5.5v2.2h-5.5zM1576.86,327.85h5.5v2.2h-5.5zM1576.86,331.15h5.5v2.2h-5.5zM1586.32,332.15h2.8v12h-2.8zM1584.97,333.75h5.5v2.2h-5.5zM1584.97,337.05h5.5v2.2h-5.5zM1584.97,340.35h5.5v2.2h-5.5zM1594.43,341.24h2.8v12h-2.8zM1593.08,342.84h5.5v2.2h-5.5zM1593.08,346.14h5.5v2.2h-5.5zM1593.08,349.44h5.5v2.2h-5.5zM1602.54,350.18h2.8v12h-2.8zM1601.19,351.78h5.5v2.2h-5.5zM1601.19,355.08h5.5v2.2h-5.5zM1601.19,358.38h5.5v2.2h-5.5zM1610.65,358.90h2.8v12h-2.8zM1609.30,360.50h5.5v2.2h-5.5zM1609.30,363.80h5.5v2.2h-5.5zM1609.30,367.10h5.5v2.2h-5.5zM1618.76,367.37h2.8v12h-2.8zM1617.41,368.97h5.5v2.2h-5.5zM1617.41,372.27h5.5v2.2h-5.5zM1617.41,375.57h5.5v2.2h-5.5zM1626.87,375.65h2.8v12h-2.8zM1625.52,377.25h5.5v2.2h-5.5zM1625.52,380.55h5.5v2.2h-5.5zM1625.52,383.85h5.5v2.2h-5.5zM1634.98,383.80h2.8v12h-2.8zM1633.63,385.40h5.5v2.2h-5.5zM1633.63,388.70h5.5v2.2h-5.5zM1633.63,392.00h5.5v2.2h-5.5zM1643.09,391.89h2.8v12h-2.8zM1641.74,393.49h5.5v2.2h-5.5zM1641.74,396.79h5.5v2.2h-5.5zM1641.74,400.09h5.5v2.2h-5.5zM1651.20,400.00h2.8v12h-2.8zM1649.85,401.60h5.5v2.2h-5.5zM1649.85,404.90h5.5v2.2h-5.5zM1649.85,408.20h5.5v2.2h-5.5zM1659.31,408.17h2.8v12h-2.8zM1657.96,409.77h5.5v2.2h-5.5zM1657.96,413.07h5.5v2.2h-5.5zM1657.96,416.37h5.5v2.2h-5.5zM1667.42,416.36h2.8v12h-2.8zM1666.07,417.96h5.5v2.2h-5.5zM1666.07,421.26h5.5v2.2h-5.5zM1666.07,424.56h5.5v2.2h-5.5zM1675.53,424.51h2.8v12h-2.8zM1674.18,426.11h5.5v2.2h-5.5zM1674.18,429.41h5.5v2.2h-5.5zM1674.18,432.71h5.5v2.2h-5.5zM1683.64,432.58h2.8v12h-2.8zM1682.29,434.18h5.5v2.2h-5.5zM1682.29,437.48h5.5v2.2h-5.5zM1682.29,440.78h5.5v2.2h-5.5zM1691.75,440.50h2.8v12h-2.8zM1690.40,442.10h5.5v2.2h-5.5zM1690.40,445.40h5.5v2.2h-5.5zM1690.40,448.70h5.5v2.2h-5.5zM1699.86,448.23h2.8v12h-2.8zM1698.51,449.83h5.5v2.2h-5.5zM1698.51,453.13h5.5v2.2h-5.5zM1698.51,456.43h5.5v2.2h-5.5zM1707.97,455.78h2.8v12h-2.8zM1706.62,457.38h5.5v2.2h-5.5zM1706.62,460.68h5.5v2.2h-5.5zM1706.62,463.98h5.5v2.2h-5.5zM1716.08,463.19h2.8v12h-2.8zM1714.73,464.79h5.5v2.2h-5.5zM1714.73,468.09h5.5v2.2h-5.5zM1714.73,471.39h5.5v2.2h-5.5zM1724.19,470.48h2.8v12h-2.8zM1722.84,472.08h5.5v2.2h-5.5zM1722.84,475.38h5.5v2.2h-5.5zM1722.84,478.68h5.5v2.2h-5.5zM1732.30,477.70h2.8v12h-2.8zM1730.95,479.30h5.5v2.2h-5.5zM1730.95,482.60h5.5v2.2h-5.5zM1730.95,485.90h5.5v2.2h-5.5zM1740.41,484.86h2.8v12h-2.8zM1739.06,486.46h5.5v2.2h-5.5zM1739.06,489.76h5.5v2.2h-5.5zM1739.06,493.06h5.5v2.2h-5.5zM1748.52,491.94h2.8v12h-2.8zM1747.17,493.54h5.5v2.2h-5.5zM1747.17,496.84h5.5v2.2h-5.5zM1747.17,500.14h5.5v2.2h-5.5zM1756.63,498.91h2.8v12h-2.8zM1755.28,500.51h5.5v2.2h-5.5zM1755.28,503.81h5.5v2.2h-5.5zM1755.28,507.11h5.5v2.2h-5.5zM1764.74,505.74h2.8v12h-2.8zM1763.39,507.34h5.5v2.2h-5.5zM1763.39,510.64h5.5v2.2h-5.5zM1763.39,513.94h5.5v2.2h-5.5zM1772.85,512.40h2.8v12h-2.8zM1771.50,514.00h5.5v2.2h-5.5zM1771.50,517.30h5.5v2.2h-5.5zM1771.50,520.60h5.5v2.2h-5.5zM1780.96,518.88h2.8v12h-2.8zM1779.61,520.48h5.5v2.2h-5.5zM1779.61,523.78h5.5v2.2h-5.5zM1779.61,527.08h5.5v2.2h-5.5zM1789.07,525.20h2.8v12h-2.8zM1787.72,526.80h5.5v2.2h-5.5zM1787.72,530.10h5.5v2.2h-5.5zM1787.72,533.40h5.5v2.2h-5.5zM1797.18,531.41h2.8v12h-2.8zM1795.83,533.01h5.5v2.2h-5.5zM1795.83,536.31h5.5v2.2h-5.5zM1795.83,539.61h5.5v2.2h-5.5zM1805.29,537.56h2.8v12h-2.8zM1803.94,539.16h5.5v2.2h-5.5zM1803.94,542.46h5.5v2.2h-5.5zM1803.94,545.76h5.5v2.2h-5.5zM1813.40,543.70h2.8v12h-2.8zM1812.05,545.30h5.5v2.2h-5.5zM1812.05,548.60h5.5v2.2h-5.5zM1812.05,551.90h5.5v2.2h-5.5zM1821.51,549.85h2.8v12h-2.8zM1820.16,551.45h5.5v2.2h-5.5zM1820.16,554.75h5.5v2.2h-5.5zM1820.16,558.05h5.5v2.2h-5.5zM1829.62,555.98h2.8v12h-2.8zM1828.27,557.58h5.5v2.2h-5.5zM1828.27,560.88h5.5v2.2h-5.5zM1828.27,564.18h5.5v2.2h-5.5zM1837.73,562.05h2.8v12h-2.8zM1836.38,563.65h5.5v2.2h-5.5zM1836.38,566.95h5.5v2.2h-5.5zM1836.38,570.25h5.5v2.2h-5.5zM1845.84,568.00h2.8v12h-2.8zM1844.49,569.60h5.5v2.2h-5.5zM1844.49,572.90h5.5v2.2h-5.5zM1844.49,576.20h5.5v2.2h-5.5zM1853.95,573.80h2.8v12h-2.8zM1852.60,575.40h5.5v2.2h-5.5zM1852.60,578.70h5.5v2.2h-5.5zM1852.60,582.00h5.5v2.2h-5.5zM1862.06,579.40h2.8v12h-2.8zM1860.71,581.00h5.5v2.2h-5.5zM1860.71,584.30h5.5v2.2h-5.5zM1860.71,587.60h5.5v2.2h-5.5zM1870.17,584.82h2.8v12h-2.8zM1868.82,586.42h5.5v2.2h-5.5zM1868.82,589.72h5.5v2.2h-5.5zM1868.82,593.02h5.5v2.2h-5.5zM1878.28,590.08h2.8v12h-2.8zM1876.93,591.68h5.5v2.2h-5.5zM1876.93,594.98h5.5v2.2h-5.5zM1876.93,598.28h5.5v2.2h-5.5zM1886.39,595.20h2.8v12h-2.8zM1885.04,596.80h5.5v2.2h-5.5zM1885.04,600.10h5.5v2.2h-5.5zM1885.04,603.40h5.5v2.2h-5.5zM1894.50,600.20h2.8v12h-2.8zM1893.15,601.80h5.5v2.2h-5.5zM1893.15,605.10h5.5v2.2h-5.5zM1893.15,608.40h5.5v2.2h-5.5zM1902.61,605.11h2.8v12h-2.8zM1901.26,606.71h5.5v2.2h-5.5zM1901.26,610.01h5.5v2.2h-5.5zM1901.26,613.31h5.5v2.2h-5.5zM1910.72,609.93h2.8v12h-2.8zM1909.37,611.53h5.5v2.2h-5.5zM1909.37,614.83h5.5v2.2h-5.5zM1909.37,618.13h5.5v2.2h-5.5zM1918.83,614.68h2.8v12h-2.8zM1917.48,616.28h5.5v2.2h-5.5zM1917.48,619.58h5.5v2.2h-5.5zM1917.48,622.88h5.5v2.2h-5.5zM1926.94,619.37h2.8v12h-2.8zM1925.59,620.97h5.5v2.2h-5.5zM1925.59,624.27h5.5v2.2h-5.5zM1925.59,627.57h5.5v2.2h-5.5zM1935.05,624.00h2.8v12h-2.8zM1933.70,625.60h5.5v2.2h-5.5zM1933.70,628.90h5.5v2.2h-5.5zM1933.70,632.20h5.5v2.2h-5.5zM1943.16,628.59h2.8v12h-2.8zM1941.81,630.19h5.5v2.2h-5.5zM1941.81,633.49h5.5v2.2h-5.5zM1941.81,636.79h5.5v2.2h-5.5zM1951.27,633.14h2.8v12h-2.8zM1949.92,634.74h5.5v2.2h-5.5zM1949.92,638.04h5.5v2.2h-5.5zM1949.92,641.34h5.5v2.2h-5.5zM1959.38,637.67h2.8v12h-2.8zM1958.03,639.27h5.5v2.2h-5.5zM1958.03,642.57h5.5v2.2h-5.5zM1958.03,645.87h5.5v2.2h-5.5zM1967.49,642.19h2.8v12h-2.8zM1966.14,643.79h5.5v2.2h-5.5zM1966.14,647.09h5.5v2.2h-5.5zM1966.14,650.39h5.5v2.2h-5.5zM1975.60,646.70h2.8v12h-2.8zM1974.25,648.30h5.5v2.2h-5.5zM1974.25,651.60h5.5v2.2h-5.5zM1974.25,654.90h5.5v2.2h-5.5z" fill="#ff0000"/>
<polyline points="1166.00,705.90 1167.01,694.63 1168.03,683.56 1169.04,672.70 1170.06,662.03 1171.07,651.54 1172.08,641.23 1173.10,631.09 1174.11,621.10 1175.12,611.26 1176.14,601.56 1177.15,591.99 1178.16,582.54 1179.18,573.21 1180.19,563.98 1181.21,554.85 1182.22,545.80 1183.23,536.83 1184.25,527.94 1185.26,519.12 1186.28,510.38 1187.29,501.71 1188.30,493.10 1189.32,484.57 1190.33,476.10 1191.34,467.70 1192.36,459.38 1193.37,451.15 1194.38,443.04 1195.40,435.05 1196.41,427.20 1197.43,419.52 1198.44,412.00 1199.45,404.67 1200.47,397.51 1201.48,390.52 1202.49,383.68 1203.51,376.98 1204.52,370.41 1205.54,363.95 1206.55,357.60 1207.56,351.34 1208.58,345.17 1209.59,339.10 1210.61,333.12 1211.62,327.22 1212.63,321.42 1213.65,315.72 1214.66,310.10 1215.67,304.57 1216.69,299.14 1217.70,293.78 1218.71,288.49 1219.73,283.28 1220.74,278.13 1221.76,273.04 1222.77,268.00 1223.78,263.01 1224.80,258.08 1225.81,253.22 1226.83,248.44 1227.84,243.74 1228.85,239.15 1229.87,234.66 1230.88,230.30 1231.89,226.06 1232.91,221.94 1233.92,217.92 1234.93,213.98 1235.95,210.12 1236.96,206.31 1237.98,202.54 1238.99,198.80 1240.00,195.07 1241.02,191.37 1242.03,187.69 1243.05,184.04 1244.06,180.45 1245.07,176.90 1246.09,173.42 1247.10,170.00 1248.11,166.66 1249.13,163.40 1250.14,160.22 1251.15,157.13 1252.17,154.11 1253.18,151.19 1254.20,148.35 1255.21,145.60 1256.22,142.94 1257.24,140.36 1258.25,137.84 1259.27,135.37 1260.28,132.93 1261.29,130.52 1262.31,128.11 1263.32,125.70 1264.33,123.27 1265.35,120.84 1266.36,118.42 1267.38,116.02 1268.39,113.66 1269.40,111.37 1270.42,109.14 1271.43,107.00 1272.44,104.96 1273.46,103.01 1274.47,101.13 1275.48,99.32 1276.50,97.55 1277.51,95.82 1278.53,94.10 1279.54,92.40 1280.55,90.69 1281.57,88.98 1282.58,87.28 1283.60,85.59 1284.61,83.92 1285.62,82.28 1286.64,80.67 1287.65,79.10 1288.66,77.57 1289.68,76.09 1290.69,74.65 1291.70,73.25 1292.72,71.89 1293.73,70.56 1294.75,69.27 1295.76,68.00 1296.77,66.76 1297.79,65.55 1298.80,64.36 1299.82,63.19 1300.83,62.05 1301.84,60.92 1302.86,59.80 1303.87,58.70 1304.88,57.61 1305.90,56.54 1306.91,55.49 1307.92,54.46 1308.94,53.46 1309.95,52.50 1310.97,51.58 1311.98,50.70 1312.99,49.87 1314.01,49.08 1315.02,48.33 1316.04,47.62 1317.05,46.93 1318.06,46.27 1319.08,45.63 1320.09,45.00 1321.10,44.38 1322.12,43.77 1323.13,43.18 1324.14,42.60 1325.16,42.04 1326.17,41.50 1327.19,40.99 1328.20,40.50 1329.21,40.04 1330.23,39.61 1331.24,39.19 1332.26,38.80 1333.27,38.43 1334.28,38.08 1335.30,37.73 1336.31,37.40 1337.32,37.08 1338.34,36.76 1339.35,36.46 1340.37,36.17 1341.38,35.90 1342.39,35.64 1343.41,35.41 1344.42,35.20 1345.43,35.01 1346.45,34.85 1347.46,34.71 1348.47,34.59 1349.49,34.49 1350.50,34.41 1351.52,34.35 1352.53,34.30 1353.54,34.27 1354.56,34.25 1355.57,34.24 1356.59,34.24 1357.60,34.25 1358.61,34.26 1359.63,34.28 1360.64,34.30 1361.65,34.32 1362.67,34.35 1363.68,34.38 1364.69,34.43 1365.71,34.49 1366.72,34.57 1367.74,34.67 1368.75,34.80 1369.76,34.96 1370.78,35.14 1371.79,35.34 1372.81,35.56 1373.82,35.79 1374.83,36.03 1375.85,36.27 1376.86,36.50 1377.87,36.73 1378.89,36.95 1379.90,37.16 1380.91,37.38 1381.93,37.60 1382.94,37.82 1383.96,38.06 1384.97,38.30 1385.98,38.56 1387.00,38.83 1388.01,39.11 1389.03,39.41 1390.04,39.71 1391.05,40.03 1392.07,40.36 1393.08,40.70 1394.09,41.05 1395.11,41.41 1396.12,41.78 1397.13,42.16 1398.15,42.55 1399.16,42.94 1400.18,43.34 1401.19,43.75 1402.20,44.16 1403.22,44.58 1404.23,45.01 1405.24,45.44 1406.26,45.87 1407.27,46.31 1408.29,46.75 1409.30,47.20 1410.31,47.65 1411.33,48.10 1412.34,48.55 1413.36,49.01 1414.37,49.47 1415.38,49.93 1416.40,50.39 1417.41,50.86 1418.42,51.34 1419.44,51.81 1420.45,52.29 1421.46,52.77 1422.48,53.26 1423.49,53.74 1424.51,54.24 1425.52,54.73 1426.53,55.23 1427.55,55.74 1428.56,56.25 1429.58,56.76 1430.59,57.28 1431.60,57.80 1432.62,58.32 1433.63,58.85 1434.64,59.39 1435.66,59.93 1436.67,60.47 1437.68,61.02 1438.70,61.57 1439.71,62.13 1440.73,62.69 1441.74,63.26 1442.75,63.83 1443.77,64.41 1444.78,65.00 1445.80,65.59 1446.81,66.18 1447.82,66.78 1448.84,67.39 1449.85,68.00 1450.86,68.62 1451.88,69.24 1452.89,69.87 1453.90,70.50 1454.92,71.14 1455.93,71.79 1456.95,72.44 1457.96,73.09 1458.97,73.75 1459.99,74.42 1461.00,75.09 1462.01,75.76 1463.03,76.44 1464.04,77.12 1465.06,77.80 1466.07,78.49 1467.08,79.19 1468.10,79.88 1469.11,80.59 1470.12,81.29 1471.14,82.00 1472.15,82.71 1473.17,83.42 1474.18,84.14 1475.19,84.86 1476.21,85.58 1477.22,86.30 1478.24,87.03 1479.25,87.76 1480.26,88.49 1481.28,89.23 1482.29,89.96 1483.30,90.70 1484.32,91.44 1485.33,92.18 1486.35,92.92 1487.36,93.66 1488.37,94.41 1489.39,95.15 1490.40,95.90 1491.41,96.65 1492.43,97.40 1493.44,98.14 1494.45,98.89 1495.47,99.64 1496.48,100.39 1497.50,101.14 1498.51,101.90 1499.52,102.65 1500.54,103.40 1501.55,104.15 1502.57,104.91 1503.58,105.66 1504.59,106.41 1505.61,107.17 1506.62,107.92 1507.63,108.68 1508.65,109.43 1509.66,110.19 1510.67,110.94 1511.69,111.70 1512.70,112.45 1513.72,113.21 1514.73,113.96 1515.74,114.72 1516.76,115.47 1517.77,116.23 1518.79,116.98 1519.80,117.73 1520.81,118.49 1521.83,119.24 1522.84,119.99 1523.85,120.75 1524.87,121.50 1525.88,122.25 1526.89,123.00 1527.91,123.75 1528.92,124.50 1529.94,125.25 1530.95,126.00 1531.96,126.75 1532.98,127.49 1533.99,128.24 1535.01,128.99 1536.02,129.73 1537.03,130.48 1538.05,131.22 1539.06,131.97 1540.07,132.71 1541.09,133.45 1542.10,134.19 1543.12,134.94 1544.13,135.68 1545.14,136.42 1546.16,137.16 1547.17,137.90 1548.18,138.64 1549.20,139.38 1550.21,140.12 1551.22,140.86 1552.24,141.60 1553.25,142.34 1554.27,143.08 1555.28,143.82 1556.29,144.56 1557.31,145.31 1558.32,146.05 1559.34,146.79 1560.35,147.53 1561.36,148.27 1562.38,149.01 1563.39,149.75 1564.40,150.49 1565.42,151.24 1566.43,151.98 1567.44,152.72 1568.46,153.47 1569.47,154.21 1570.49,154.95 1571.50,155.70 1572.51,156.45 1573.53,157.19 1574.54,157.94 1575.56,158.69 1576.57,159.43 1577.58,160.18 1578.60,160.93 1579.61,161.68 1580.62,162.43 1581.64,163.18 1582.65,163.92 1583.66,164.67 1584.68,165.42 1585.69,166.17 1586.71,166.92 1587.72,167.67 1588.73,168.41 1589.75,169.16 1590.76,169.91 1591.78,170.65 1592.79,171.40 1593.80,172.15 1594.82,172.89 1595.83,173.63 1596.84,174.38 1597.86,175.12 1598.87,175.86 1599.88,176.60 1600.90,177.34 1601.91,178.08 1602.93,178.82 1603.94,179.56 1604.95,180.29 1605.97,181.02 1606.98,181.76 1607.99,182.49 1609.01,183.22 1610.02,183.95 1611.04,184.67 1612.05,185.40 1613.06,186.12 1614.08,186.85 1615.09,187.57 1616.11,188.29 1617.12,189.00 1618.13,189.72 1619.15,190.44 1620.16,191.15 1621.17,191.87 1622.19,192.58 1623.20,193.29 1624.21,194.00 1625.23,194.71 1626.24,195.42 1627.26,196.13 1628.27,196.84 1629.28,197.55 1630.30,198.26 1631.31,198.97 1632.33,199.68 1633.34,200.39 1634.35,201.10 1635.37,201.81 1636.38,202.52 1637.39,203.23 1638.41,203.94 1639.42,204.65 1640.43,205.37 1641.45,206.08 1642.46,206.79 1643.48,207.51 1644.49,208.22 1645.50,208.94 1646.52,209.66 1647.53,210.38 1648.55,211.10 1649.56,211.82 1650.57,212.55 1651.59,213.27 1652.60,214.00 1653.61,214.73 1654.63,215.46 1655.64,216.19 1656.65,216.93 1657.67,217.66 1658.68,218.40 1659.70,219.14 1660.71,219.88 1661.72,220.62 1662.74,221.37 1663.75,222.11 1664.76,222.86 1665.78,223.61 1666.79,224.35 1667.81,225.10 1668.82,225.86 1669.83,226.61 1670.85,227.36 1671.86,228.11 1672.88,228.87 1673.89,229.63 1674.90,230.38 1675.92,231.14 1676.93,231.90 1677.94,232.66 1678.96,233.42 1679.97,234.18 1680.99,234.94 1682.00,235.70 1683.01,236.46 1684.03,237.23 1685.04,237.99 1686.05,238.75 1687.07,239.51 1688.08,240.28 1689.10,241.04 1690.11,241.81 1691.12,242.57 1692.14,243.34 1693.15,244.10 1694.16,244.86 1695.18,245.63 1696.19,246.39 1697.20,247.16 1698.22,247.92 1699.23,248.68 1700.25,249.45 1701.26,250.21 1702.27,250.97 1703.29,251.73 1704.30,252.50 1705.32,253.26 1706.33,254.02 1707.34,254.78 1708.36,255.53 1709.37,256.29 1710.38,257.05 1711.40,257.81 1712.41,258.56 1713.42,259.31 1714.44,260.07 1715.45,260.82 1716.47,261.57 1717.48,262.32 1718.49,263.07 1719.51,263.81 1720.52,264.56 1721.53,265.30 1722.55,266.05 1723.56,266.79 1724.58,267.53 1725.59,268.26 1726.60,269.00 1727.62,269.73 1728.63,270.47 1729.64,271.20 1730.66,271.93 1731.67,272.65 1732.69,273.38 1733.70,274.10 1734.71,274.82 1735.73,275.54 1736.74,276.26 1737.76,276.97 1738.77,277.68 1739.78,278.39 1740.80,279.10 1741.81,279.81 1742.82,280.51 1743.84,281.22 1744.85,281.92 1745.87,282.62 1746.88,283.32 1747.89,284.01 1748.91,284.71 1749.92,285.40 1750.93,286.09 1751.95,286.78 1752.96,287.47 1753.97,288.16 1754.99,288.85 1756.00,289.53 1757.02,290.22 1758.03,290.90 1759.04,291.58 1760.06,292.26 1761.07,292.94 1762.09,293.62 1763.10,294.30 1764.11,294.98 1765.13,295.65 1766.14,296.33 1767.15,297.00 1768.17,297.67 1769.18,298.35 1770.20,299.02 1771.21,299.69 1772.22,300.36 1773.24,301.03 1774.25,301.70 1775.26,302.37 1776.28,303.04 1777.29,303.71 1778.30,304.37 1779.32,305.04 1780.33,305.71 1781.35,306.37 1782.36,307.04 1783.37,307.71 1784.39,308.37 1785.40,309.04 1786.41,309.70 1787.43,310.36 1788.44,311.03 1789.46,311.69 1790.47,312.35 1791.48,313.02 1792.50,313.68 1793.51,314.34 1794.53,315.00 1795.54,315.67 1796.55,316.33 1797.57,316.99 1798.58,317.65 1799.59,318.31 1800.61,318.97 1801.62,319.63 1802.63,320.29 1803.65,320.95 1804.66,321.61 1805.68,322.27 1806.69,322.93 1807.70,323.59 1808.72,324.25 1809.73,324.91 1810.74,325.57 1811.76,326.22 1812.77,326.88 1813.79,327.54 1814.80,328.20 1815.81,328.86 1816.83,329.52 1817.84,330.18 1818.86,330.83 1819.87,331.49 1820.88,332.15 1821.90,332.81 1822.91,333.46 1823.92,334.12 1824.94,334.78 1825.95,335.43 1826.97,336.09 1827.98,336.74 1828.99,337.40 1830.01,338.05 1831.02,338.70 1832.03,339.36 1833.05,340.01 1834.06,340.66 1835.08,341.31 1836.09,341.96 1837.10,342.61 1838.12,343.26 1839.13,343.90 1840.14,344.55 1841.16,345.19 1842.17,345.84 1843.18,346.48 1844.20,347.12 1845.21,347.76 1846.23,348.40 1847.24,349.04 1848.25,349.68 1849.27,350.31 1850.28,350.95 1851.30,351.58 1852.31,352.21 1853.32,352.84 1854.34,353.47 1855.35,354.10 1856.36,354.73 1857.38,355.35 1858.39,355.97 1859.40,356.59 1860.42,357.21 1861.43,357.83 1862.45,358.45 1863.46,359.07 1864.47,359.68 1865.49,360.30 1866.50,360.91 1867.51,361.52 1868.53,362.13 1869.54,362.74 1870.56,363.35 1871.57,363.96 1872.58,364.57 1873.60,365.18 1874.61,365.78 1875.62,366.39 1876.64,367.00 1877.65,367.60 1878.67,368.21 1879.68,368.81 1880.69,369.42 1881.71,370.02 1882.72,370.63 1883.74,371.23 1884.75,371.84 1885.76,372.44 1886.78,373.05 1887.79,373.65 1888.80,374.26 1889.82,374.86 1890.83,375.47 1891.85,376.07 1892.86,376.68 1893.87,377.28 1894.89,377.89 1895.90,378.50 1896.91,379.11 1897.93,379.72 1898.94,380.33 1899.95,380.94 1900.97,381.55 1901.98,382.16 1903.00,382.77 1904.01,383.38 1905.02,384.00 1906.04,384.61 1907.05,385.22 1908.07,385.83 1909.08,386.45 1910.09,387.06 1911.11,387.68 1912.12,388.29 1913.13,388.91 1914.15,389.52 1915.16,390.13 1916.17,390.75 1917.19,391.36 1918.20,391.98 1919.22,392.59 1920.23,393.21 1921.24,393.82 1922.26,394.44 1923.27,395.05 1924.28,395.66 1925.30,396.28 1926.31,396.89 1927.33,397.50 1928.34,398.12 1929.35,398.73 1930.37,399.34 1931.38,399.95 1932.39,400.56 1933.41,401.17 1934.42,401.78 1935.44,402.39 1936.45,403.00 1937.46,403.61 1938.48,404.22 1939.49,404.82 1940.51,405.43 1941.52,406.03 1942.53,406.64 1943.55,407.24 1944.56,407.84 1945.57,408.45 1946.59,409.05 1947.60,409.65 1948.62,410.25 1949.63,410.85 1950.64,411.44 1951.66,412.04 1952.67,412.63 1953.68,413.23 1954.70,413.82 1955.71,414.41 1956.72,415.00 1957.74,415.59 1958.75,416.18 1959.77,416.76 1960.78,417.35 1961.79,417.93 1962.81,418.52 1963.82,419.10 1964.84,419.68 1965.85,420.25 1966.86,420.83 1967.88,421.40 1968.89,421.98 1969.90,422.55 1970.92,423.12 1971.93,423.69 1972.95,424.25 1973.96,424.82 1974.97,425.38 1975.99,425.94 1977.00,426.50" stroke="#0000ff" stroke-width="2.7" fill="none" stroke-linejoin="round"/>
<path d="M1164.60,699.90h2.8v12h-2.8zM1163.25,701.50h5.5v2.2h-5.5zM1163.25,704.80h5.5v2.2h-5.5zM1163.25,708.10h5.5v2.2h-5.5zM1172.71,615.10h2.8v12h-2.8zM1171.36,616.70h5.5v2.2h-5.5zM1171.36,620.00h5.5v2.2h-5.5zM1171.36,623.30h5.5v2.2h-5.5zM1180.82,539.80h2.8v12h-2.8zM1179.47,541.40h5.5v2.2h-5.5zM1179.47,544.70h5.5v2.2h-5.5zM1179.47,548.00h5.5v2.2h-5.5zM1188.93,470.10h2.8v12h-2.8zM1187.58,471.70h5.5v2.2h-5.5zM1187.58,475.00h5.5v2.2h-5.5zM1187.58,478.30h5.5v2.2h-5.5zM1197.04,406.00h2.8v12h-2.8zM1195.69,407.60h5.5v2.2h-5.5zM1195.69,410.90h5.5v2.2h-5.5zM1195.69,414.20h5.5v2.2h-5.5zM1205.15,351.60h2.8v12h-2.8zM1203.80,353.20h5.5v2.2h-5.5zM1203.80,356.50h5.5v2.2h-5.5zM1203.80,359.80h5.5v2.2h-5.5zM1213.26,304.10h2.8v12h-2.8zM1211.91,305.70h5.5v2.2h-5.5zM1211.91,309.00h5.5v2.2h-5.5zM1211.91,312.30h5.5v2.2h-5.5zM1221.37,262.00h2.8v12h-2.8zM1220.02,263.60h5.5v2.2h-5.5zM1220.02,266.90h5.5v2.2h-5.5zM1220.02,270.20h5.5v2.2h-5.5zM1229.48,224.30h2.8v12h-2.8zM1228.13,225.90h5.5v2.2h-5.5zM1228.13,229.20h5.5v2.2h-5.5zM1228.13,232.50h5.5v2.2h-5.5zM1237.59,192.80h2.8v12h-2.8zM1236.24,194.40h5.5v2.2h-5.5zM1236.24,197.70h5.5v2.2h-5.5zM1236.24,201.00h5.5v2.2h-5.5zM1245.70,164.00h2.8v12h-2.8zM1244.35,165.60h5.5v2.2h-5.5zM1244.35,168.90h5.5v2.2h-5.5zM1244.35,172.20h5.5v2.2h-5.5zM1253.81,139.60h2.8v12h-2.8zM1252.46,141.20h5.5v2.2h-5.5zM1252.46,144.50h5.5v2.2h-5.5zM1252.46,147.80h5.5v2.2h-5.5zM1261.92,119.70h2.8v12h-2.8zM1260.57,121.30h5.5v2.2h-5.5zM1260.57,124.60h5.5v2.2h-5.5zM1260.57,127.90h5.5v2.2h-5.5zM1270.03,101.00h2.8v12h-2.8zM1268.68,102.60h5.5v2.2h-5.5zM1268.68,105.90h5.5v2.2h-5.5zM1268.68,109.20h5.5v2.2h-5.5zM1278.14,86.40h2.8v12h-2.8zM1276.79,88.00h5.5v2.2h-5.5zM1276.79,91.30h5.5v2.2h-5.5zM1276.79,94.60h5.5v2.2h-5.5zM1286.25,73.10h2.8v12h-2.8zM1284.90,74.70h5.5v2.2h-5.5zM1284.90,78.00h5.5v2.2h-5.5zM1284.90,81.30h5.5v2.2h-5.5zM1294.36,62.00h2.8v12h-2.8zM1293.01,63.60h5.5v2.2h-5.5zM1293.01,66.90h5.5v2.2h-5.5zM1293.01,70.20h5.5v2.2h-5.5zM1302.47,52.70h2.8v12h-2.8zM1301.12,54.30h5.5v2.2h-5.5zM1301.12,57.60h5.5v2.2h-5.5zM1301.12,60.90h5.5v2.2h-5.5zM1310.58,44.70h2.8v12h-2.8zM1309.23,46.30h5.5v2.2h-5.5zM1309.23,49.60h5.5v2.2h-5.5zM1309.23,52.90h5.5v2.2h-5.5zM1318.69,39.00h2.8v12h-2.8zM1317.34,40.60h5.5v2.2h-5.5zM1317.34,43.90h5.5v2.2h-5.5zM1317.34,47.20h5.5v2.2h-5.5zM1326.80,34.50h2.8v12h-2.8zM1325.45,36.10h5.5v2.2h-5.5zM1325.45,39.40h5.5v2.2h-5.5zM1325.45,42.70h5.5v2.2h-5.5zM1334.91,31.40h2.8v12h-2.8zM1333.56,33.00h5.5v2.2h-5.5zM1333.56,36.30h5.5v2.2h-5.5zM1333.56,39.60h5.5v2.2h-5.5zM1343.02,29.20h2.8v12h-2.8zM1341.67,30.80h5.5v2.2h-5.5zM1341.67,34.10h5.5v2.2h-5.5zM1341.67,37.40h5.5v2.2h-5.5zM1351.13,28.30h2.8v12h-2.8zM1349.78,29.90h5.5v2.2h-5.5zM1349.78,33.20h5.5v2.2h-5.5zM1349.78,36.50h5.5v2.2h-5.5zM1359.24,28.30h2.8v12h-2.8zM1357.89,29.90h5.5v2.2h-5.5zM1357.89,33.20h5.5v2.2h-5.5zM1357.89,36.50h5.5v2.2h-5.5zM1367.35,28.80h2.8v12h-2.8zM1366.00,30.40h5.5v2.2h-5.5zM1366.00,33.70h5.5v2.2h-5.5zM1366.00,37.00h5.5v2.2h-5.5zM1375.46,30.50h2.8v12h-2.8zM1374.11,32.10h5.5v2.2h-5.5zM1374.11,35.40h5.5v2.2h-5.5zM1374.11,38.70h5.5v2.2h-5.5zM1383.57,32.30h2.8v12h-2.8zM1382.22,33.90h5.5v2.2h-5.5zM1382.22,37.20h5.5v2.2h-5.5zM1382.22,40.50h5.5v2.2h-5.5zM1391.68,34.70h2.8v12h-2.8zM1390.33,36.30h5.5v2.2h-5.5zM1390.33,39.60h5.5v2.2h-5.5zM1390.33,42.90h5.5v2.2h-5.5zM1399.79,37.75h2.8v12h-2.8zM1398.44,39.35h5.5v2.2h-5.5zM1398.44,42.65h5.5v2.2h-5.5zM1398.44,45.95h5.5v2.2h-5.5zM1407.90,41.20h2.8v12h-2.8zM1406.55,42.80h5.5v2.2h-5.5zM1406.55,46.10h5.5v2.2h-5.5zM1406.55,49.40h5.5v2.2h-5.5zM1416.01,44.86h2.8v12h-2.8zM1414.66,46.46h5.5v2.2h-5.5zM1414.66,49.76h5.5v2.2h-5.5zM1414.66,53.06h5.5v2.2h-5.5zM1424.12,48.73h2.8v12h-2.8zM1422.77,50.33h5.5v2.2h-5.5zM1422.77,53.63h5.5v2.2h-5.5zM1422.77,56.93h5.5v2.2h-5.5zM1432.23,52.85h2.8v12h-2.8zM1430.88,54.45h5.5v2.2h-5.5zM1430.88,57.75h5.5v2.2h-5.5zM1430.88,61.05h5.5v2.2h-5.5zM1440.34,57.26h2.8v12h-2.8zM1438.99,58.86h5.5v2.2h-5.5zM1438.99,62.16h5.5v2.2h-5.5zM1438.99,65.46h5.5v2.2h-5.5zM1448.45,62.00h2.8v12h-2.8zM1447.10,63.60h5.5v2.2h-5.5zM1447.10,66.90h5.5v2.2h-5.5zM1447.10,70.20h5.5v2.2h-5.5zM1456.56,67.09h2.8v12h-2.8zM1455.21,68.69h5.5v2.2h-5.5zM1455.21,71.99h5.5v2.2h-5.5zM1455.21,75.29h5.5v2.2h-5.5zM1464.67,72.49h2.8v12h-2.8zM1463.32,74.09h5.5v2.2h-5.5zM1463.32,77.39h5.5v2.2h-5.5zM1463.32,80.69h5.5v2.2h-5.5zM1472.78,78.14h2.8v12h-2.8zM1471.43,79.74h5.5v2.2h-5.5zM1471.43,83.04h5.5v2.2h-5.5zM1471.43,86.34h5.5v2.2h-5.5zM1480.89,83.96h2.8v12h-2.8zM1479.54,85.56h5.5v2.2h-5.5zM1479.54,88.86h5.5v2.2h-5.5zM1479.54,92.16h5.5v2.2h-5.5zM1489.00,89.90h2.8v12h-2.8zM1487.65,91.50h5.5v2.2h-5.5zM1487.65,94.80h5.5v2.2h-5.5zM1487.65,98.10h5.5v2.2h-5.5zM1497.11,95.90h2.8v12h-2.8zM1495.76,97.50h5.5v2.2h-5.5zM1495.76,100.80h5.5v2.2h-5.5zM1495.76,104.10h5.5v2.2h-5.5zM1505.22,101.92h2.8v12h-2.8zM1503.87,103.52h5.5v2.2h-5.5zM1503.87,106.82h5.5v2.2h-5.5zM1503.87,110.12h5.5v2.2h-5.5zM1513.33,107.96h2.8v12h-2.8zM1511.98,109.56h5.5v2.2h-5.5zM1511.98,112.86h5.5v2.2h-5.5zM1511.98,116.16h5.5v2.2h-5.5zM1521.44,113.99h2.8v12h-2.8zM1520.09,115.59h5.5v2.2h-5.5zM1520.09,118.89h5.5v2.2h-5.5zM1520.09,122.19h5.5v2.2h-5.5zM1529.55,120.00h2.8v12h-2.8zM1528.20,121.60h5.5v2.2h-5.5zM1528.20,124.90h5.5v2.2h-5.5zM1528.20,128.20h5.5v2.2h-5.5zM1537.66,125.97h2.8v12h-2.8zM1536.31,127.57h5.5v2.2h-5.5zM1536.31,130.87h5.5v2.2h-5.5zM1536.31,134.17h5.5v2.2h-5.5zM1545.77,131.90h2.8v12h-2.8zM1544.42,133.50h5.5v2.2h-5.5zM1544.42,136.80h5.5v2.2h-5.5zM1544.42,140.10h5.5v2.2h-5.5zM1553.88,137.82h2.8v12h-2.8zM1552.53,139.42h5.5v2.2h-5.5zM1552.53,142.72h5.5v2.2h-5.5zM1552.53,146.02h5.5v2.2h-5.5zM1561.99,143.75h2.8v12h-2.8zM1560.64,145.35h5.5v2.2h-5.5zM1560.64,148.65h5.5v2.2h-5.5zM1560.64,151.95h5.5v2.2h-5.5zM1570.10,149.70h2.8v12h-2.8zM1568.75,151.30h5.5v2.2h-5.5zM1568.75,154.60h5.5v2.2h-5.5zM1568.75,157.90h5.5v2.2h-5.5zM1578.21,155.68h2.8v12h-2.8zM1576.86,157.28h5.5v2.2h-5.5zM1576.86,160.58h5.5v2.2h-5.5zM1576.86,163.88h5.5v2.2h-5.5zM1586.32,161.67h2.8v12h-2.8zM1584.97,163.27h5.5v2.2h-5.5zM1584.97,166.57h5.5v2.2h-5.5zM1584.97,169.87h5.5v2.2h-5.5zM1594.43,167.63h2.8v12h-2.8zM1593.08,169.23h5.5v2.2h-5.5zM1593.08,172.53h5.5v2.2h-5.5zM1593.08,175.83h5.5v2.2h-5.5zM1602.54,173.56h2.8v12h-2.8zM1601.19,175.16h5.5v2.2h-5.5zM1601.19,178.46h5.5v2.2h-5.5zM1601.19,181.76h5.5v2.2h-5.5zM1610.65,179.40h2.8v12h-2.8zM1609.30,181.00h5.5v2.2h-5.5zM1609.30,184.30h5.5v2.2h-5.5zM1609.30,187.60h5.5v2.2h-5.5zM1618.76,185.15h2.8v12h-2.8zM1617.41,186.75h5.5v2.2h-5.5zM1617.41,190.05h5.5v2.2h-5.5zM1617.41,193.35h5.5v2.2h-5.5zM1626.87,190.84h2.8v12h-2.8zM1625.52,192.44h5.5v2.2h-5.5zM1625.52,195.74h5.5v2.2h-5.5zM1625.52,199.04h5.5v2.2h-5.5zM1634.98,196.52h2.8v12h-2.8zM1633.63,198.12h5.5v2.2h-5.5zM1633.63,201.42h5.5v2.2h-5.5zM1633.63,204.72h5.5v2.2h-5.5zM1643.09,202.22h2.8v12h-2.8zM1641.74,203.82h5.5v2.2h-5.5zM1641.74,207.12h5.5v2.2h-5.5zM1641.74,210.42h5.5v2.2h-5.5zM1651.20,208.00h2.8v12h-2.8zM1649.85,209.60h5.5v2.2h-5.5zM1649.85,212.90h5.5v2.2h-5.5zM1649.85,216.20h5.5v2.2h-5.5zM1659.31,213.88h2.8v12h-2.8zM1657.96,215.48h5.5v2.2h-5.5zM1657.96,218.78h5.5v2.2h-5.5zM1657.96,222.08h5.5v2.2h-5.5zM1667.42,219.86h2.8v12h-2.8zM1666.07,221.46h5.5v2.2h-5.5zM1666.07,224.76h5.5v2.2h-5.5zM1666.07,228.06h5.5v2.2h-5.5zM1675.53,225.90h2.8v12h-2.8zM1674.18,227.50h5.5v2.2h-5.5zM1674.18,230.80h5.5v2.2h-5.5zM1674.18,234.10h5.5v2.2h-5.5zM1683.64,231.99h2.8v12h-2.8zM1682.29,233.59h5.5v2.2h-5.5zM1682.29,236.89h5.5v2.2h-5.5zM1682.29,240.19h5.5v2.2h-5.5zM1691.75,238.10h2.8v12h-2.8zM1690.40,239.70h5.5v2.2h-5.5zM1690.40,243.00h5.5v2.2h-5.5zM1690.40,246.30h5.5v2.2h-5.5zM1699.86,244.21h2.8v12h-2.8zM1698.51,245.81h5.5v2.2h-5.5zM1698.51,249.11h5.5v2.2h-5.5zM1698.51,252.41h5.5v2.2h-5.5zM1707.97,250.29h2.8v12h-2.8zM1706.62,251.89h5.5v2.2h-5.5zM1706.62,255.19h5.5v2.2h-5.5zM1706.62,258.49h5.5v2.2h-5.5zM1716.08,256.32h2.8v12h-2.8zM1714.73,257.92h5.5v2.2h-5.5zM1714.73,261.22h5.5v2.2h-5.5zM1714.73,264.52h5.5v2.2h-5.5zM1724.19,262.26h2.8v12h-2.8zM1722.84,263.86h5.5v2.2h-5.5zM1722.84,267.16h5.5v2.2h-5.5zM1722.84,270.46h5.5v2.2h-5.5zM1732.30,268.10h2.8v12h-2.8zM1730.95,269.70h5.5v2.2h-5.5zM1730.95,273.00h5.5v2.2h-5.5zM1730.95,276.30h5.5v2.2h-5.5zM1740.41,273.81h2.8v12h-2.8zM1739.06,275.41h5.5v2.2h-5.5zM1739.06,278.71h5.5v2.2h-5.5zM1739.06,282.01h5.5v2.2h-5.5zM1748.52,279.40h2.8v12h-2.8zM1747.17,281.00h5.5v2.2h-5.5zM1747.17,284.30h5.5v2.2h-5.5zM1747.17,287.60h5.5v2.2h-5.5zM1756.63,284.90h2.8v12h-2.8zM1755.28,286.50h5.5v2.2h-5.5zM1755.28,289.80h5.5v2.2h-5.5zM1755.28,293.10h5.5v2.2h-5.5zM1764.74,290.33h2.8v12h-2.8zM1763.39,291.93h5.5v2.2h-5.5zM1763.39,295.23h5.5v2.2h-5.5zM1763.39,298.53h5.5v2.2h-5.5zM1772.85,295.70h2.8v12h-2.8zM1771.50,297.30h5.5v2.2h-5.5zM1771.50,300.60h5.5v2.2h-5.5zM1771.50,303.90h5.5v2.2h-5.5zM1780.96,301.04h2.8v12h-2.8zM1779.61,302.64h5.5v2.2h-5.5zM1779.61,305.94h5.5v2.2h-5.5zM1779.61,309.24h5.5v2.2h-5.5zM1789.07,306.35h2.8v12h-2.8zM1787.72,307.95h5.5v2.2h-5.5zM1787.72,311.25h5.5v2.2h-5.5zM1787.72,314.55h5.5v2.2h-5.5zM1797.18,311.65h2.8v12h-2.8zM1795.83,313.25h5.5v2.2h-5.5zM1795.83,316.55h5.5v2.2h-5.5zM1795.83,319.85h5.5v2.2h-5.5zM1805.29,316.93h2.8v12h-2.8zM1803.94,318.53h5.5v2.2h-5.5zM1803.94,321.83h5.5v2.2h-5.5zM1803.94,325.13h5.5v2.2h-5.5zM1813.40,322.20h2.8v12h-2.8zM1812.05,323.80h5.5v2.2h-5.5zM1812.05,327.10h5.5v2.2h-5.5zM1812.05,330.40h5.5v2.2h-5.5zM1821.51,327.46h2.8v12h-2.8zM1820.16,329.06h5.5v2.2h-5.5zM1820.16,332.36h5.5v2.2h-5.5zM1820.16,335.66h5.5v2.2h-5.5zM1829.62,332.70h2.8v12h-2.8zM1828.27,334.30h5.5v2.2h-5.5zM1828.27,337.60h5.5v2.2h-5.5zM1828.27,340.90h5.5v2.2h-5.5zM1837.73,337.90h2.8v12h-2.8zM1836.38,339.50h5.5v2.2h-5.5zM1836.38,342.80h5.5v2.2h-5.5zM1836.38,346.10h5.5v2.2h-5.5zM1845.84,343.04h2.8v12h-2.8zM1844.49,344.64h5.5v2.2h-5.5zM1844.49,347.94h5.5v2.2h-5.5zM1844.49,351.24h5.5v2.2h-5.5zM1853.95,348.10h2.8v12h-2.8zM1852.60,349.70h5.5v2.2h-5.5zM1852.60,353.00h5.5v2.2h-5.5zM1852.60,356.30h5.5v2.2h-5.5zM1862.06,353.07h2.8v12h-2.8zM1860.71,354.67h5.5v2.2h-5.5zM1860.71,357.97h5.5v2.2h-5.5zM1860.71,361.27h5.5v2.2h-5.5zM1870.17,357.96h2.8v12h-2.8zM1868.82,359.56h5.5v2.2h-5.5zM1868.82,362.86h5.5v2.2h-5.5zM1868.82,366.16h5.5v2.2h-5.5zM1878.28,362.81h2.8v12h-2.8zM1876.93,364.41h5.5v2.2h-5.5zM1876.93,367.71h5.5v2.2h-5.5zM1876.93,371.01h5.5v2.2h-5.5zM1886.39,367.65h2.8v12h-2.8zM1885.04,369.25h5.5v2.2h-5.5zM1885.04,372.55h5.5v2.2h-5.5zM1885.04,375.85h5.5v2.2h-5.5zM1894.50,372.50h2.8v12h-2.8zM1893.15,374.10h5.5v2.2h-5.5zM1893.15,377.40h5.5v2.2h-5.5zM1893.15,380.70h5.5v2.2h-5.5zM1902.61,377.38h2.8v12h-2.8zM1901.26,378.98h5.5v2.2h-5.5zM1901.26,382.28h5.5v2.2h-5.5zM1901.26,385.58h5.5v2.2h-5.5zM1910.72,382.29h2.8v12h-2.8zM1909.37,383.89h5.5v2.2h-5.5zM1909.37,387.19h5.5v2.2h-5.5zM1909.37,390.49h5.5v2.2h-5.5zM1918.83,387.21h2.8v12h-2.8zM1917.48,388.81h5.5v2.2h-5.5zM1917.48,392.11h5.5v2.2h-5.5zM1917.48,395.41h5.5v2.2h-5.5zM1926.94,392.12h2.8v12h-2.8zM1925.59,393.72h5.5v2.2h-5.5zM1925.59,397.02h5.5v2.2h-5.5zM1925.59,400.32h5.5v2.2h-5.5zM1935.05,397.00h2.8v12h-2.8zM1933.70,398.60h5.5v2.2h-5.5zM1933.70,401.90h5.5v2.2h-5.5zM1933.70,405.20h5.5v2.2h-5.5zM1943.16,401.84h2.8v12h-2.8zM1941.81,403.44h5.5v2.2h-5.5zM1941.81,406.74h5.5v2.2h-5.5zM1941.81,410.04h5.5v2.2h-5.5zM1951.27,406.63h2.8v12h-2.8zM1949.92,408.23h5.5v2.2h-5.5zM1949.92,411.53h5.5v2.2h-5.5zM1949.92,414.83h5.5v2.2h-5.5zM1959.38,411.35h2.8v12h-2.8zM1958.03,412.95h5.5v2.2h-5.5zM1958.03,416.25h5.5v2.2h-5.5zM1958.03,419.55h5.5v2.2h-5.5zM1967.49,415.98h2.8v12h-2.8zM1966.14,417.58h5.5v2.2h-5.5zM1966.14,420.88h5.5v2.2h-5.5zM1966.14,424.18h5.5v2.2h-5.5zM1975.60,420.50h2.8v12h-2.8zM1974.25,422.10h5.5v2.2h-5.5zM1974.25,425.40h5.5v2.2h-5.5zM1974.25,428.70h5.5v2.2h-5.5z" fill="#0000ff"/>
<text x="1150.0" y="758.5" text-anchor="end" class="tk">0.04</text>
<text x="1150.0" y="677.9" text-anchor="end" class="tk">0.06</text>
<text x="1150.0" y="597.3" text-anchor="end" class="tk">0.08</text>
<text x="1150.0" y="516.7" text-anchor="end" class="tk">0.1</text>
<text x="1150.0" y="436.1" text-anchor="end" class="tk">0.12</text>
<text x="1150.0" y="355.5" text-anchor="end" class="tk">0.14</text>
<text x="1150.0" y="274.9" text-anchor="end" class="tk">0.16</text>
<text x="1150.0" y="194.3" text-anchor="end" class="tk">0.18</text>
<text x="1150.0" y="113.7" text-anchor="end" class="tk">0.2</text>
<text x="1150.0" y="33.1" text-anchor="end" class="tk">0.22</text>
<text x="1170.9" y="788.3" text-anchor="middle" class="tk">0</text>
<text x="1250.5" y="788.3" text-anchor="middle" class="tk">10</text>
<text x="1330.3" y="788.3" text-anchor="middle" class="tk">20</text>
<text x="1411.5" y="788.3" text-anchor="middle" class="tk">30</text>
<text x="1492.3" y="788.3" text-anchor="middle" class="tk">40</text>
<text x="1573.6" y="788.3" text-anchor="middle" class="tk">50</text>
<text x="1654.7" y="788.3" text-anchor="middle" class="tk">60</text>
<text x="1735.6" y="788.3" text-anchor="middle" class="tk">70</text>
<text x="1817.5" y="788.3" text-anchor="middle" class="tk">80</text>
<text x="1898.4" y="788.3" text-anchor="middle" class="tk">90</text>
<text x="1979.0" y="788.3" text-anchor="middle" class="tk">100</text>
<text x="1576.5" y="836.3" text-anchor="middle" class="xl">Time (days)</text>
<text transform="translate(1063.0,410.5) rotate(-90)" x="0" y="0" text-anchor="middle" class="lb">Infectious (Patch 2)</text>
<rect x="1815.00" y="30.70" width="157.50" height="97.00" fill="#fff" stroke="#000" stroke-width="1.8"/>
<path d="M1819.70,56.00H1845.80" stroke="#ff0000" stroke-width="2.2"/>
<path d="M1831.30,50.00h2.8v12h-2.8zM1829.95,51.60h5.5v2.2h-5.5zM1829.95,54.90h5.5v2.2h-5.5zM1829.95,58.20h5.5v2.2h-5.5z" fill="#ff0000"/>
<path d="M1819.70,101.80H1845.80" stroke="#0000ff" stroke-width="2.2"/>
<path d="M1831.30,95.80h2.8v12h-2.8zM1829.95,97.40h5.5v2.2h-5.5zM1829.95,100.70h5.5v2.2h-5.5zM1829.95,104.00h5.5v2.2h-5.5z" fill="#0000ff"/>
<text x="1853.0" y="56.0" class="lg" textLength="78.5" lengthAdjust="spacingAndGlyphs">Optimal</text>
<text x="1853.0" y="82.6" class="lg" textLength="73.5" lengthAdjust="spacingAndGlyphs">Control</text>
<text x="1853.0" y="111.9" class="lg" textLength="109.5" lengthAdjust="spacingAndGlyphs">No Control</text>
<text x="1545.9" y="892.6" class="par">(</text>
<text transform="translate(1562.0,892.8) scale(1.22,1)" class="cap" style="font-size:39.5px">b</text>
<text x="1587.1" y="892.6" class="par">)</text>
</svg>
</body></html>
